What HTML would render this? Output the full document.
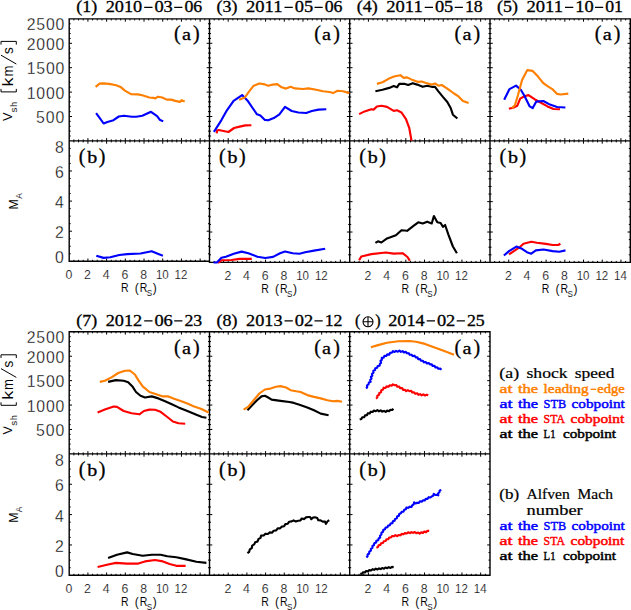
<!DOCTYPE html><html><head><meta charset="utf-8"><style>html,body{margin:0;padding:0;background:#fff;width:631px;height:610px;overflow:hidden}svg{display:block}</style></head><body>
<svg width="631" height="610" viewBox="0 0 631 610">
<rect width="631" height="610" fill="#fff"/>
<path d="M69.20 18.90H209.50V140.90H69.20ZM69.20 140.90H209.50V261.30H69.20ZM209.50 18.90H349.70V140.90H209.50ZM209.50 140.90H349.70V262.40H209.50ZM349.70 18.90H490.00V140.90H349.70ZM349.70 140.90H490.00V262.40H349.70ZM490.00 18.90H630.30V140.90H490.00ZM490.00 140.90H630.30V262.40H490.00ZM69.20 331.80H209.50V453.90H69.20ZM69.20 453.90H209.50V575.30H69.20ZM209.50 331.80H349.70V453.90H209.50ZM209.50 453.90H349.70V575.30H209.50ZM349.70 331.80H490.00V453.90H349.70ZM349.70 453.90H490.00V575.30H349.70Z" fill="none" stroke="#000" stroke-width="1.4" stroke-linecap="square"/>
<path d="M73.88 140.90v-1.5M73.88 18.90v1.5M78.55 140.90v-1.5M78.55 18.90v1.5M83.23 140.90v-1.5M83.23 18.90v1.5M87.91 140.90v-2.8M87.91 18.90v2.8M92.58 140.90v-1.5M92.58 18.90v1.5M97.26 140.90v-1.5M97.26 18.90v1.5M101.94 140.90v-1.5M101.94 18.90v1.5M106.61 140.90v-2.8M106.61 18.90v2.8M111.29 140.90v-1.5M111.29 18.90v1.5M115.97 140.90v-1.5M115.97 18.90v1.5M120.64 140.90v-1.5M120.64 18.90v1.5M125.32 140.90v-2.8M125.32 18.90v2.8M130.00 140.90v-1.5M130.00 18.90v1.5M134.67 140.90v-1.5M134.67 18.90v1.5M139.35 140.90v-1.5M139.35 18.90v1.5M144.03 140.90v-2.8M144.03 18.90v2.8M148.70 140.90v-1.5M148.70 18.90v1.5M153.38 140.90v-1.5M153.38 18.90v1.5M158.06 140.90v-1.5M158.06 18.90v1.5M162.73 140.90v-2.8M162.73 18.90v2.8M167.41 140.90v-1.5M167.41 18.90v1.5M172.09 140.90v-1.5M172.09 18.90v1.5M176.76 140.90v-1.5M176.76 18.90v1.5M181.44 140.90v-2.8M181.44 18.90v2.8M186.12 140.90v-1.5M186.12 18.90v1.5M190.79 140.90v-1.5M190.79 18.90v1.5M195.47 140.90v-1.5M195.47 18.90v1.5M200.15 140.90v-2.8M200.15 18.90v2.8M204.82 140.90v-1.5M204.82 18.90v1.5M69.20 136.02h1.5M209.50 136.02h-1.5M69.20 131.14h1.5M209.50 131.14h-1.5M69.20 126.26h1.5M209.50 126.26h-1.5M69.20 121.38h1.5M209.50 121.38h-1.5M69.20 116.50h2.8M209.50 116.50h-2.8M69.20 111.62h1.5M209.50 111.62h-1.5M69.20 106.74h1.5M209.50 106.74h-1.5M69.20 101.86h1.5M209.50 101.86h-1.5M69.20 96.98h1.5M209.50 96.98h-1.5M69.20 92.10h2.8M209.50 92.10h-2.8M69.20 87.22h1.5M209.50 87.22h-1.5M69.20 82.34h1.5M209.50 82.34h-1.5M69.20 77.46h1.5M209.50 77.46h-1.5M69.20 72.58h1.5M209.50 72.58h-1.5M69.20 67.70h2.8M209.50 67.70h-2.8M69.20 62.82h1.5M209.50 62.82h-1.5M69.20 57.94h1.5M209.50 57.94h-1.5M69.20 53.06h1.5M209.50 53.06h-1.5M69.20 48.18h1.5M209.50 48.18h-1.5M69.20 43.30h2.8M209.50 43.30h-2.8M69.20 38.42h1.5M209.50 38.42h-1.5M69.20 33.54h1.5M209.50 33.54h-1.5M69.20 28.66h1.5M209.50 28.66h-1.5M69.20 23.78h1.5M209.50 23.78h-1.5M73.88 261.30v-1.5M73.88 140.90v1.5M78.55 261.30v-1.5M78.55 140.90v1.5M83.23 261.30v-1.5M83.23 140.90v1.5M87.91 261.30v-2.8M87.91 140.90v2.8M92.58 261.30v-1.5M92.58 140.90v1.5M97.26 261.30v-1.5M97.26 140.90v1.5M101.94 261.30v-1.5M101.94 140.90v1.5M106.61 261.30v-2.8M106.61 140.90v2.8M111.29 261.30v-1.5M111.29 140.90v1.5M115.97 261.30v-1.5M115.97 140.90v1.5M120.64 261.30v-1.5M120.64 140.90v1.5M125.32 261.30v-2.8M125.32 140.90v2.8M130.00 261.30v-1.5M130.00 140.90v1.5M134.67 261.30v-1.5M134.67 140.90v1.5M139.35 261.30v-1.5M139.35 140.90v1.5M144.03 261.30v-2.8M144.03 140.90v2.8M148.70 261.30v-1.5M148.70 140.90v1.5M153.38 261.30v-1.5M153.38 140.90v1.5M158.06 261.30v-1.5M158.06 140.90v1.5M162.73 261.30v-2.8M162.73 140.90v2.8M167.41 261.30v-1.5M167.41 140.90v1.5M172.09 261.30v-1.5M172.09 140.90v1.5M176.76 261.30v-1.5M176.76 140.90v1.5M181.44 261.30v-2.8M181.44 140.90v2.8M186.12 261.30v-1.5M186.12 140.90v1.5M190.79 261.30v-1.5M190.79 140.90v1.5M195.47 261.30v-1.5M195.47 140.90v1.5M200.15 261.30v-2.8M200.15 140.90v2.8M204.82 261.30v-1.5M204.82 140.90v1.5M69.20 253.78h1.5M209.50 253.78h-1.5M69.20 246.25h1.5M209.50 246.25h-1.5M69.20 238.73h1.5M209.50 238.73h-1.5M69.20 231.20h2.8M209.50 231.20h-2.8M69.20 223.68h1.5M209.50 223.68h-1.5M69.20 216.15h1.5M209.50 216.15h-1.5M69.20 208.62h1.5M209.50 208.62h-1.5M69.20 201.10h2.8M209.50 201.10h-2.8M69.20 193.57h1.5M209.50 193.57h-1.5M69.20 186.05h1.5M209.50 186.05h-1.5M69.20 178.53h1.5M209.50 178.53h-1.5M69.20 171.00h2.8M209.50 171.00h-2.8M69.20 163.48h1.5M209.50 163.48h-1.5M69.20 155.95h1.5M209.50 155.95h-1.5M69.20 148.43h1.5M209.50 148.43h-1.5M214.17 140.90v-1.5M214.17 18.90v1.5M218.85 140.90v-1.5M218.85 18.90v1.5M223.52 140.90v-1.5M223.52 18.90v1.5M228.19 140.90v-2.8M228.19 18.90v2.8M232.87 140.90v-1.5M232.87 18.90v1.5M237.54 140.90v-1.5M237.54 18.90v1.5M242.21 140.90v-1.5M242.21 18.90v1.5M246.89 140.90v-2.8M246.89 18.90v2.8M251.56 140.90v-1.5M251.56 18.90v1.5M256.23 140.90v-1.5M256.23 18.90v1.5M260.91 140.90v-1.5M260.91 18.90v1.5M265.58 140.90v-2.8M265.58 18.90v2.8M270.25 140.90v-1.5M270.25 18.90v1.5M274.93 140.90v-1.5M274.93 18.90v1.5M279.60 140.90v-1.5M279.60 18.90v1.5M284.27 140.90v-2.8M284.27 18.90v2.8M288.95 140.90v-1.5M288.95 18.90v1.5M293.62 140.90v-1.5M293.62 18.90v1.5M298.29 140.90v-1.5M298.29 18.90v1.5M302.97 140.90v-2.8M302.97 18.90v2.8M307.64 140.90v-1.5M307.64 18.90v1.5M312.31 140.90v-1.5M312.31 18.90v1.5M316.99 140.90v-1.5M316.99 18.90v1.5M321.66 140.90v-2.8M321.66 18.90v2.8M326.33 140.90v-1.5M326.33 18.90v1.5M331.01 140.90v-1.5M331.01 18.90v1.5M335.68 140.90v-1.5M335.68 18.90v1.5M340.35 140.90v-2.8M340.35 18.90v2.8M345.03 140.90v-1.5M345.03 18.90v1.5M209.50 136.02h1.5M349.70 136.02h-1.5M209.50 131.14h1.5M349.70 131.14h-1.5M209.50 126.26h1.5M349.70 126.26h-1.5M209.50 121.38h1.5M349.70 121.38h-1.5M209.50 116.50h2.8M349.70 116.50h-2.8M209.50 111.62h1.5M349.70 111.62h-1.5M209.50 106.74h1.5M349.70 106.74h-1.5M209.50 101.86h1.5M349.70 101.86h-1.5M209.50 96.98h1.5M349.70 96.98h-1.5M209.50 92.10h2.8M349.70 92.10h-2.8M209.50 87.22h1.5M349.70 87.22h-1.5M209.50 82.34h1.5M349.70 82.34h-1.5M209.50 77.46h1.5M349.70 77.46h-1.5M209.50 72.58h1.5M349.70 72.58h-1.5M209.50 67.70h2.8M349.70 67.70h-2.8M209.50 62.82h1.5M349.70 62.82h-1.5M209.50 57.94h1.5M349.70 57.94h-1.5M209.50 53.06h1.5M349.70 53.06h-1.5M209.50 48.18h1.5M349.70 48.18h-1.5M209.50 43.30h2.8M349.70 43.30h-2.8M209.50 38.42h1.5M349.70 38.42h-1.5M209.50 33.54h1.5M349.70 33.54h-1.5M209.50 28.66h1.5M349.70 28.66h-1.5M209.50 23.78h1.5M349.70 23.78h-1.5M214.17 262.40v-1.5M214.17 140.90v1.5M218.85 262.40v-1.5M218.85 140.90v1.5M223.52 262.40v-1.5M223.52 140.90v1.5M228.19 262.40v-2.8M228.19 140.90v2.8M232.87 262.40v-1.5M232.87 140.90v1.5M237.54 262.40v-1.5M237.54 140.90v1.5M242.21 262.40v-1.5M242.21 140.90v1.5M246.89 262.40v-2.8M246.89 140.90v2.8M251.56 262.40v-1.5M251.56 140.90v1.5M256.23 262.40v-1.5M256.23 140.90v1.5M260.91 262.40v-1.5M260.91 140.90v1.5M265.58 262.40v-2.8M265.58 140.90v2.8M270.25 262.40v-1.5M270.25 140.90v1.5M274.93 262.40v-1.5M274.93 140.90v1.5M279.60 262.40v-1.5M279.60 140.90v1.5M284.27 262.40v-2.8M284.27 140.90v2.8M288.95 262.40v-1.5M288.95 140.90v1.5M293.62 262.40v-1.5M293.62 140.90v1.5M298.29 262.40v-1.5M298.29 140.90v1.5M302.97 262.40v-2.8M302.97 140.90v2.8M307.64 262.40v-1.5M307.64 140.90v1.5M312.31 262.40v-1.5M312.31 140.90v1.5M316.99 262.40v-1.5M316.99 140.90v1.5M321.66 262.40v-2.8M321.66 140.90v2.8M326.33 262.40v-1.5M326.33 140.90v1.5M331.01 262.40v-1.5M331.01 140.90v1.5M335.68 262.40v-1.5M335.68 140.90v1.5M340.35 262.40v-2.8M340.35 140.90v2.8M345.03 262.40v-1.5M345.03 140.90v1.5M209.50 254.81h1.5M349.70 254.81h-1.5M209.50 247.21h1.5M349.70 247.21h-1.5M209.50 239.62h1.5M349.70 239.62h-1.5M209.50 232.02h2.8M349.70 232.02h-2.8M209.50 224.43h1.5M349.70 224.43h-1.5M209.50 216.84h1.5M349.70 216.84h-1.5M209.50 209.24h1.5M349.70 209.24h-1.5M209.50 201.65h2.8M349.70 201.65h-2.8M209.50 194.06h1.5M349.70 194.06h-1.5M209.50 186.46h1.5M349.70 186.46h-1.5M209.50 178.87h1.5M349.70 178.87h-1.5M209.50 171.28h2.8M349.70 171.28h-2.8M209.50 163.68h1.5M349.70 163.68h-1.5M209.50 156.09h1.5M349.70 156.09h-1.5M209.50 148.49h1.5M349.70 148.49h-1.5M354.38 140.90v-1.5M354.38 18.90v1.5M359.05 140.90v-1.5M359.05 18.90v1.5M363.73 140.90v-1.5M363.73 18.90v1.5M368.41 140.90v-2.8M368.41 18.90v2.8M373.08 140.90v-1.5M373.08 18.90v1.5M377.76 140.90v-1.5M377.76 18.90v1.5M382.44 140.90v-1.5M382.44 18.90v1.5M387.11 140.90v-2.8M387.11 18.90v2.8M391.79 140.90v-1.5M391.79 18.90v1.5M396.47 140.90v-1.5M396.47 18.90v1.5M401.14 140.90v-1.5M401.14 18.90v1.5M405.82 140.90v-2.8M405.82 18.90v2.8M410.50 140.90v-1.5M410.50 18.90v1.5M415.17 140.90v-1.5M415.17 18.90v1.5M419.85 140.90v-1.5M419.85 18.90v1.5M424.53 140.90v-2.8M424.53 18.90v2.8M429.20 140.90v-1.5M429.20 18.90v1.5M433.88 140.90v-1.5M433.88 18.90v1.5M438.56 140.90v-1.5M438.56 18.90v1.5M443.23 140.90v-2.8M443.23 18.90v2.8M447.91 140.90v-1.5M447.91 18.90v1.5M452.59 140.90v-1.5M452.59 18.90v1.5M457.26 140.90v-1.5M457.26 18.90v1.5M461.94 140.90v-2.8M461.94 18.90v2.8M466.62 140.90v-1.5M466.62 18.90v1.5M471.29 140.90v-1.5M471.29 18.90v1.5M475.97 140.90v-1.5M475.97 18.90v1.5M480.65 140.90v-2.8M480.65 18.90v2.8M485.32 140.90v-1.5M485.32 18.90v1.5M349.70 136.02h1.5M490.00 136.02h-1.5M349.70 131.14h1.5M490.00 131.14h-1.5M349.70 126.26h1.5M490.00 126.26h-1.5M349.70 121.38h1.5M490.00 121.38h-1.5M349.70 116.50h2.8M490.00 116.50h-2.8M349.70 111.62h1.5M490.00 111.62h-1.5M349.70 106.74h1.5M490.00 106.74h-1.5M349.70 101.86h1.5M490.00 101.86h-1.5M349.70 96.98h1.5M490.00 96.98h-1.5M349.70 92.10h2.8M490.00 92.10h-2.8M349.70 87.22h1.5M490.00 87.22h-1.5M349.70 82.34h1.5M490.00 82.34h-1.5M349.70 77.46h1.5M490.00 77.46h-1.5M349.70 72.58h1.5M490.00 72.58h-1.5M349.70 67.70h2.8M490.00 67.70h-2.8M349.70 62.82h1.5M490.00 62.82h-1.5M349.70 57.94h1.5M490.00 57.94h-1.5M349.70 53.06h1.5M490.00 53.06h-1.5M349.70 48.18h1.5M490.00 48.18h-1.5M349.70 43.30h2.8M490.00 43.30h-2.8M349.70 38.42h1.5M490.00 38.42h-1.5M349.70 33.54h1.5M490.00 33.54h-1.5M349.70 28.66h1.5M490.00 28.66h-1.5M349.70 23.78h1.5M490.00 23.78h-1.5M354.38 262.40v-1.5M354.38 140.90v1.5M359.05 262.40v-1.5M359.05 140.90v1.5M363.73 262.40v-1.5M363.73 140.90v1.5M368.41 262.40v-2.8M368.41 140.90v2.8M373.08 262.40v-1.5M373.08 140.90v1.5M377.76 262.40v-1.5M377.76 140.90v1.5M382.44 262.40v-1.5M382.44 140.90v1.5M387.11 262.40v-2.8M387.11 140.90v2.8M391.79 262.40v-1.5M391.79 140.90v1.5M396.47 262.40v-1.5M396.47 140.90v1.5M401.14 262.40v-1.5M401.14 140.90v1.5M405.82 262.40v-2.8M405.82 140.90v2.8M410.50 262.40v-1.5M410.50 140.90v1.5M415.17 262.40v-1.5M415.17 140.90v1.5M419.85 262.40v-1.5M419.85 140.90v1.5M424.53 262.40v-2.8M424.53 140.90v2.8M429.20 262.40v-1.5M429.20 140.90v1.5M433.88 262.40v-1.5M433.88 140.90v1.5M438.56 262.40v-1.5M438.56 140.90v1.5M443.23 262.40v-2.8M443.23 140.90v2.8M447.91 262.40v-1.5M447.91 140.90v1.5M452.59 262.40v-1.5M452.59 140.90v1.5M457.26 262.40v-1.5M457.26 140.90v1.5M461.94 262.40v-2.8M461.94 140.90v2.8M466.62 262.40v-1.5M466.62 140.90v1.5M471.29 262.40v-1.5M471.29 140.90v1.5M475.97 262.40v-1.5M475.97 140.90v1.5M480.65 262.40v-2.8M480.65 140.90v2.8M485.32 262.40v-1.5M485.32 140.90v1.5M349.70 254.81h1.5M490.00 254.81h-1.5M349.70 247.21h1.5M490.00 247.21h-1.5M349.70 239.62h1.5M490.00 239.62h-1.5M349.70 232.02h2.8M490.00 232.02h-2.8M349.70 224.43h1.5M490.00 224.43h-1.5M349.70 216.84h1.5M490.00 216.84h-1.5M349.70 209.24h1.5M490.00 209.24h-1.5M349.70 201.65h2.8M490.00 201.65h-2.8M349.70 194.06h1.5M490.00 194.06h-1.5M349.70 186.46h1.5M490.00 186.46h-1.5M349.70 178.87h1.5M490.00 178.87h-1.5M349.70 171.28h2.8M490.00 171.28h-2.8M349.70 163.68h1.5M490.00 163.68h-1.5M349.70 156.09h1.5M490.00 156.09h-1.5M349.70 148.49h1.5M490.00 148.49h-1.5M494.68 140.90v-1.5M494.68 18.90v1.5M499.35 140.90v-1.5M499.35 18.90v1.5M504.03 140.90v-1.5M504.03 18.90v1.5M508.71 140.90v-2.8M508.71 18.90v2.8M513.38 140.90v-1.5M513.38 18.90v1.5M518.06 140.90v-1.5M518.06 18.90v1.5M522.74 140.90v-1.5M522.74 18.90v1.5M527.41 140.90v-2.8M527.41 18.90v2.8M532.09 140.90v-1.5M532.09 18.90v1.5M536.77 140.90v-1.5M536.77 18.90v1.5M541.44 140.90v-1.5M541.44 18.90v1.5M546.12 140.90v-2.8M546.12 18.90v2.8M550.80 140.90v-1.5M550.80 18.90v1.5M555.47 140.90v-1.5M555.47 18.90v1.5M560.15 140.90v-1.5M560.15 18.90v1.5M564.83 140.90v-2.8M564.83 18.90v2.8M569.50 140.90v-1.5M569.50 18.90v1.5M574.18 140.90v-1.5M574.18 18.90v1.5M578.86 140.90v-1.5M578.86 18.90v1.5M583.53 140.90v-2.8M583.53 18.90v2.8M588.21 140.90v-1.5M588.21 18.90v1.5M592.89 140.90v-1.5M592.89 18.90v1.5M597.56 140.90v-1.5M597.56 18.90v1.5M602.24 140.90v-2.8M602.24 18.90v2.8M606.92 140.90v-1.5M606.92 18.90v1.5M611.59 140.90v-1.5M611.59 18.90v1.5M616.27 140.90v-1.5M616.27 18.90v1.5M620.95 140.90v-2.8M620.95 18.90v2.8M625.62 140.90v-1.5M625.62 18.90v1.5M490.00 136.02h1.5M630.30 136.02h-1.5M490.00 131.14h1.5M630.30 131.14h-1.5M490.00 126.26h1.5M630.30 126.26h-1.5M490.00 121.38h1.5M630.30 121.38h-1.5M490.00 116.50h2.8M630.30 116.50h-2.8M490.00 111.62h1.5M630.30 111.62h-1.5M490.00 106.74h1.5M630.30 106.74h-1.5M490.00 101.86h1.5M630.30 101.86h-1.5M490.00 96.98h1.5M630.30 96.98h-1.5M490.00 92.10h2.8M630.30 92.10h-2.8M490.00 87.22h1.5M630.30 87.22h-1.5M490.00 82.34h1.5M630.30 82.34h-1.5M490.00 77.46h1.5M630.30 77.46h-1.5M490.00 72.58h1.5M630.30 72.58h-1.5M490.00 67.70h2.8M630.30 67.70h-2.8M490.00 62.82h1.5M630.30 62.82h-1.5M490.00 57.94h1.5M630.30 57.94h-1.5M490.00 53.06h1.5M630.30 53.06h-1.5M490.00 48.18h1.5M630.30 48.18h-1.5M490.00 43.30h2.8M630.30 43.30h-2.8M490.00 38.42h1.5M630.30 38.42h-1.5M490.00 33.54h1.5M630.30 33.54h-1.5M490.00 28.66h1.5M630.30 28.66h-1.5M490.00 23.78h1.5M630.30 23.78h-1.5M494.68 262.40v-1.5M494.68 140.90v1.5M499.35 262.40v-1.5M499.35 140.90v1.5M504.03 262.40v-1.5M504.03 140.90v1.5M508.71 262.40v-2.8M508.71 140.90v2.8M513.38 262.40v-1.5M513.38 140.90v1.5M518.06 262.40v-1.5M518.06 140.90v1.5M522.74 262.40v-1.5M522.74 140.90v1.5M527.41 262.40v-2.8M527.41 140.90v2.8M532.09 262.40v-1.5M532.09 140.90v1.5M536.77 262.40v-1.5M536.77 140.90v1.5M541.44 262.40v-1.5M541.44 140.90v1.5M546.12 262.40v-2.8M546.12 140.90v2.8M550.80 262.40v-1.5M550.80 140.90v1.5M555.47 262.40v-1.5M555.47 140.90v1.5M560.15 262.40v-1.5M560.15 140.90v1.5M564.83 262.40v-2.8M564.83 140.90v2.8M569.50 262.40v-1.5M569.50 140.90v1.5M574.18 262.40v-1.5M574.18 140.90v1.5M578.86 262.40v-1.5M578.86 140.90v1.5M583.53 262.40v-2.8M583.53 140.90v2.8M588.21 262.40v-1.5M588.21 140.90v1.5M592.89 262.40v-1.5M592.89 140.90v1.5M597.56 262.40v-1.5M597.56 140.90v1.5M602.24 262.40v-2.8M602.24 140.90v2.8M606.92 262.40v-1.5M606.92 140.90v1.5M611.59 262.40v-1.5M611.59 140.90v1.5M616.27 262.40v-1.5M616.27 140.90v1.5M620.95 262.40v-2.8M620.95 140.90v2.8M625.62 262.40v-1.5M625.62 140.90v1.5M490.00 254.81h1.5M630.30 254.81h-1.5M490.00 247.21h1.5M630.30 247.21h-1.5M490.00 239.62h1.5M630.30 239.62h-1.5M490.00 232.02h2.8M630.30 232.02h-2.8M490.00 224.43h1.5M630.30 224.43h-1.5M490.00 216.84h1.5M630.30 216.84h-1.5M490.00 209.24h1.5M630.30 209.24h-1.5M490.00 201.65h2.8M630.30 201.65h-2.8M490.00 194.06h1.5M630.30 194.06h-1.5M490.00 186.46h1.5M630.30 186.46h-1.5M490.00 178.87h1.5M630.30 178.87h-1.5M490.00 171.28h2.8M630.30 171.28h-2.8M490.00 163.68h1.5M630.30 163.68h-1.5M490.00 156.09h1.5M630.30 156.09h-1.5M490.00 148.49h1.5M630.30 148.49h-1.5M73.88 453.90v-1.5M73.88 331.80v1.5M78.55 453.90v-1.5M78.55 331.80v1.5M83.23 453.90v-1.5M83.23 331.80v1.5M87.91 453.90v-2.8M87.91 331.80v2.8M92.58 453.90v-1.5M92.58 331.80v1.5M97.26 453.90v-1.5M97.26 331.80v1.5M101.94 453.90v-1.5M101.94 331.80v1.5M106.61 453.90v-2.8M106.61 331.80v2.8M111.29 453.90v-1.5M111.29 331.80v1.5M115.97 453.90v-1.5M115.97 331.80v1.5M120.64 453.90v-1.5M120.64 331.80v1.5M125.32 453.90v-2.8M125.32 331.80v2.8M130.00 453.90v-1.5M130.00 331.80v1.5M134.67 453.90v-1.5M134.67 331.80v1.5M139.35 453.90v-1.5M139.35 331.80v1.5M144.03 453.90v-2.8M144.03 331.80v2.8M148.70 453.90v-1.5M148.70 331.80v1.5M153.38 453.90v-1.5M153.38 331.80v1.5M158.06 453.90v-1.5M158.06 331.80v1.5M162.73 453.90v-2.8M162.73 331.80v2.8M167.41 453.90v-1.5M167.41 331.80v1.5M172.09 453.90v-1.5M172.09 331.80v1.5M176.76 453.90v-1.5M176.76 331.80v1.5M181.44 453.90v-2.8M181.44 331.80v2.8M186.12 453.90v-1.5M186.12 331.80v1.5M190.79 453.90v-1.5M190.79 331.80v1.5M195.47 453.90v-1.5M195.47 331.80v1.5M200.15 453.90v-2.8M200.15 331.80v2.8M204.82 453.90v-1.5M204.82 331.80v1.5M69.20 449.02h1.5M209.50 449.02h-1.5M69.20 444.13h1.5M209.50 444.13h-1.5M69.20 439.25h1.5M209.50 439.25h-1.5M69.20 434.36h1.5M209.50 434.36h-1.5M69.20 429.48h2.8M209.50 429.48h-2.8M69.20 424.60h1.5M209.50 424.60h-1.5M69.20 419.71h1.5M209.50 419.71h-1.5M69.20 414.83h1.5M209.50 414.83h-1.5M69.20 409.94h1.5M209.50 409.94h-1.5M69.20 405.06h2.8M209.50 405.06h-2.8M69.20 400.18h1.5M209.50 400.18h-1.5M69.20 395.29h1.5M209.50 395.29h-1.5M69.20 390.41h1.5M209.50 390.41h-1.5M69.20 385.52h1.5M209.50 385.52h-1.5M69.20 380.64h2.8M209.50 380.64h-2.8M69.20 375.76h1.5M209.50 375.76h-1.5M69.20 370.87h1.5M209.50 370.87h-1.5M69.20 365.99h1.5M209.50 365.99h-1.5M69.20 361.10h1.5M209.50 361.10h-1.5M69.20 356.22h2.8M209.50 356.22h-2.8M69.20 351.34h1.5M209.50 351.34h-1.5M69.20 346.45h1.5M209.50 346.45h-1.5M69.20 341.57h1.5M209.50 341.57h-1.5M69.20 336.68h1.5M209.50 336.68h-1.5M73.88 575.30v-1.5M73.88 453.90v1.5M78.55 575.30v-1.5M78.55 453.90v1.5M83.23 575.30v-1.5M83.23 453.90v1.5M87.91 575.30v-2.8M87.91 453.90v2.8M92.58 575.30v-1.5M92.58 453.90v1.5M97.26 575.30v-1.5M97.26 453.90v1.5M101.94 575.30v-1.5M101.94 453.90v1.5M106.61 575.30v-2.8M106.61 453.90v2.8M111.29 575.30v-1.5M111.29 453.90v1.5M115.97 575.30v-1.5M115.97 453.90v1.5M120.64 575.30v-1.5M120.64 453.90v1.5M125.32 575.30v-2.8M125.32 453.90v2.8M130.00 575.30v-1.5M130.00 453.90v1.5M134.67 575.30v-1.5M134.67 453.90v1.5M139.35 575.30v-1.5M139.35 453.90v1.5M144.03 575.30v-2.8M144.03 453.90v2.8M148.70 575.30v-1.5M148.70 453.90v1.5M153.38 575.30v-1.5M153.38 453.90v1.5M158.06 575.30v-1.5M158.06 453.90v1.5M162.73 575.30v-2.8M162.73 453.90v2.8M167.41 575.30v-1.5M167.41 453.90v1.5M172.09 575.30v-1.5M172.09 453.90v1.5M176.76 575.30v-1.5M176.76 453.90v1.5M181.44 575.30v-2.8M181.44 453.90v2.8M186.12 575.30v-1.5M186.12 453.90v1.5M190.79 575.30v-1.5M190.79 453.90v1.5M195.47 575.30v-1.5M195.47 453.90v1.5M200.15 575.30v-2.8M200.15 453.90v2.8M204.82 575.30v-1.5M204.82 453.90v1.5M69.20 567.71h1.5M209.50 567.71h-1.5M69.20 560.12h1.5M209.50 560.12h-1.5M69.20 552.54h1.5M209.50 552.54h-1.5M69.20 544.95h2.8M209.50 544.95h-2.8M69.20 537.36h1.5M209.50 537.36h-1.5M69.20 529.77h1.5M209.50 529.77h-1.5M69.20 522.19h1.5M209.50 522.19h-1.5M69.20 514.60h2.8M209.50 514.60h-2.8M69.20 507.01h1.5M209.50 507.01h-1.5M69.20 499.42h1.5M209.50 499.42h-1.5M69.20 491.84h1.5M209.50 491.84h-1.5M69.20 484.25h2.8M209.50 484.25h-2.8M69.20 476.66h1.5M209.50 476.66h-1.5M69.20 469.07h1.5M209.50 469.07h-1.5M69.20 461.49h1.5M209.50 461.49h-1.5M214.17 453.90v-1.5M214.17 331.80v1.5M218.85 453.90v-1.5M218.85 331.80v1.5M223.52 453.90v-1.5M223.52 331.80v1.5M228.19 453.90v-2.8M228.19 331.80v2.8M232.87 453.90v-1.5M232.87 331.80v1.5M237.54 453.90v-1.5M237.54 331.80v1.5M242.21 453.90v-1.5M242.21 331.80v1.5M246.89 453.90v-2.8M246.89 331.80v2.8M251.56 453.90v-1.5M251.56 331.80v1.5M256.23 453.90v-1.5M256.23 331.80v1.5M260.91 453.90v-1.5M260.91 331.80v1.5M265.58 453.90v-2.8M265.58 331.80v2.8M270.25 453.90v-1.5M270.25 331.80v1.5M274.93 453.90v-1.5M274.93 331.80v1.5M279.60 453.90v-1.5M279.60 331.80v1.5M284.27 453.90v-2.8M284.27 331.80v2.8M288.95 453.90v-1.5M288.95 331.80v1.5M293.62 453.90v-1.5M293.62 331.80v1.5M298.29 453.90v-1.5M298.29 331.80v1.5M302.97 453.90v-2.8M302.97 331.80v2.8M307.64 453.90v-1.5M307.64 331.80v1.5M312.31 453.90v-1.5M312.31 331.80v1.5M316.99 453.90v-1.5M316.99 331.80v1.5M321.66 453.90v-2.8M321.66 331.80v2.8M326.33 453.90v-1.5M326.33 331.80v1.5M331.01 453.90v-1.5M331.01 331.80v1.5M335.68 453.90v-1.5M335.68 331.80v1.5M340.35 453.90v-2.8M340.35 331.80v2.8M345.03 453.90v-1.5M345.03 331.80v1.5M209.50 449.02h1.5M349.70 449.02h-1.5M209.50 444.13h1.5M349.70 444.13h-1.5M209.50 439.25h1.5M349.70 439.25h-1.5M209.50 434.36h1.5M349.70 434.36h-1.5M209.50 429.48h2.8M349.70 429.48h-2.8M209.50 424.60h1.5M349.70 424.60h-1.5M209.50 419.71h1.5M349.70 419.71h-1.5M209.50 414.83h1.5M349.70 414.83h-1.5M209.50 409.94h1.5M349.70 409.94h-1.5M209.50 405.06h2.8M349.70 405.06h-2.8M209.50 400.18h1.5M349.70 400.18h-1.5M209.50 395.29h1.5M349.70 395.29h-1.5M209.50 390.41h1.5M349.70 390.41h-1.5M209.50 385.52h1.5M349.70 385.52h-1.5M209.50 380.64h2.8M349.70 380.64h-2.8M209.50 375.76h1.5M349.70 375.76h-1.5M209.50 370.87h1.5M349.70 370.87h-1.5M209.50 365.99h1.5M349.70 365.99h-1.5M209.50 361.10h1.5M349.70 361.10h-1.5M209.50 356.22h2.8M349.70 356.22h-2.8M209.50 351.34h1.5M349.70 351.34h-1.5M209.50 346.45h1.5M349.70 346.45h-1.5M209.50 341.57h1.5M349.70 341.57h-1.5M209.50 336.68h1.5M349.70 336.68h-1.5M214.17 575.30v-1.5M214.17 453.90v1.5M218.85 575.30v-1.5M218.85 453.90v1.5M223.52 575.30v-1.5M223.52 453.90v1.5M228.19 575.30v-2.8M228.19 453.90v2.8M232.87 575.30v-1.5M232.87 453.90v1.5M237.54 575.30v-1.5M237.54 453.90v1.5M242.21 575.30v-1.5M242.21 453.90v1.5M246.89 575.30v-2.8M246.89 453.90v2.8M251.56 575.30v-1.5M251.56 453.90v1.5M256.23 575.30v-1.5M256.23 453.90v1.5M260.91 575.30v-1.5M260.91 453.90v1.5M265.58 575.30v-2.8M265.58 453.90v2.8M270.25 575.30v-1.5M270.25 453.90v1.5M274.93 575.30v-1.5M274.93 453.90v1.5M279.60 575.30v-1.5M279.60 453.90v1.5M284.27 575.30v-2.8M284.27 453.90v2.8M288.95 575.30v-1.5M288.95 453.90v1.5M293.62 575.30v-1.5M293.62 453.90v1.5M298.29 575.30v-1.5M298.29 453.90v1.5M302.97 575.30v-2.8M302.97 453.90v2.8M307.64 575.30v-1.5M307.64 453.90v1.5M312.31 575.30v-1.5M312.31 453.90v1.5M316.99 575.30v-1.5M316.99 453.90v1.5M321.66 575.30v-2.8M321.66 453.90v2.8M326.33 575.30v-1.5M326.33 453.90v1.5M331.01 575.30v-1.5M331.01 453.90v1.5M335.68 575.30v-1.5M335.68 453.90v1.5M340.35 575.30v-2.8M340.35 453.90v2.8M345.03 575.30v-1.5M345.03 453.90v1.5M209.50 567.71h1.5M349.70 567.71h-1.5M209.50 560.12h1.5M349.70 560.12h-1.5M209.50 552.54h1.5M349.70 552.54h-1.5M209.50 544.95h2.8M349.70 544.95h-2.8M209.50 537.36h1.5M349.70 537.36h-1.5M209.50 529.77h1.5M349.70 529.77h-1.5M209.50 522.19h1.5M349.70 522.19h-1.5M209.50 514.60h2.8M349.70 514.60h-2.8M209.50 507.01h1.5M349.70 507.01h-1.5M209.50 499.42h1.5M349.70 499.42h-1.5M209.50 491.84h1.5M349.70 491.84h-1.5M209.50 484.25h2.8M349.70 484.25h-2.8M209.50 476.66h1.5M349.70 476.66h-1.5M209.50 469.07h1.5M349.70 469.07h-1.5M209.50 461.49h1.5M349.70 461.49h-1.5M354.38 453.90v-1.5M354.38 331.80v1.5M359.05 453.90v-1.5M359.05 331.80v1.5M363.73 453.90v-1.5M363.73 331.80v1.5M368.41 453.90v-2.8M368.41 331.80v2.8M373.08 453.90v-1.5M373.08 331.80v1.5M377.76 453.90v-1.5M377.76 331.80v1.5M382.44 453.90v-1.5M382.44 331.80v1.5M387.11 453.90v-2.8M387.11 331.80v2.8M391.79 453.90v-1.5M391.79 331.80v1.5M396.47 453.90v-1.5M396.47 331.80v1.5M401.14 453.90v-1.5M401.14 331.80v1.5M405.82 453.90v-2.8M405.82 331.80v2.8M410.50 453.90v-1.5M410.50 331.80v1.5M415.17 453.90v-1.5M415.17 331.80v1.5M419.85 453.90v-1.5M419.85 331.80v1.5M424.53 453.90v-2.8M424.53 331.80v2.8M429.20 453.90v-1.5M429.20 331.80v1.5M433.88 453.90v-1.5M433.88 331.80v1.5M438.56 453.90v-1.5M438.56 331.80v1.5M443.23 453.90v-2.8M443.23 331.80v2.8M447.91 453.90v-1.5M447.91 331.80v1.5M452.59 453.90v-1.5M452.59 331.80v1.5M457.26 453.90v-1.5M457.26 331.80v1.5M461.94 453.90v-2.8M461.94 331.80v2.8M466.62 453.90v-1.5M466.62 331.80v1.5M471.29 453.90v-1.5M471.29 331.80v1.5M475.97 453.90v-1.5M475.97 331.80v1.5M480.65 453.90v-2.8M480.65 331.80v2.8M485.32 453.90v-1.5M485.32 331.80v1.5M349.70 449.02h1.5M490.00 449.02h-1.5M349.70 444.13h1.5M490.00 444.13h-1.5M349.70 439.25h1.5M490.00 439.25h-1.5M349.70 434.36h1.5M490.00 434.36h-1.5M349.70 429.48h2.8M490.00 429.48h-2.8M349.70 424.60h1.5M490.00 424.60h-1.5M349.70 419.71h1.5M490.00 419.71h-1.5M349.70 414.83h1.5M490.00 414.83h-1.5M349.70 409.94h1.5M490.00 409.94h-1.5M349.70 405.06h2.8M490.00 405.06h-2.8M349.70 400.18h1.5M490.00 400.18h-1.5M349.70 395.29h1.5M490.00 395.29h-1.5M349.70 390.41h1.5M490.00 390.41h-1.5M349.70 385.52h1.5M490.00 385.52h-1.5M349.70 380.64h2.8M490.00 380.64h-2.8M349.70 375.76h1.5M490.00 375.76h-1.5M349.70 370.87h1.5M490.00 370.87h-1.5M349.70 365.99h1.5M490.00 365.99h-1.5M349.70 361.10h1.5M490.00 361.10h-1.5M349.70 356.22h2.8M490.00 356.22h-2.8M349.70 351.34h1.5M490.00 351.34h-1.5M349.70 346.45h1.5M490.00 346.45h-1.5M349.70 341.57h1.5M490.00 341.57h-1.5M349.70 336.68h1.5M490.00 336.68h-1.5M354.38 575.30v-1.5M354.38 453.90v1.5M359.05 575.30v-1.5M359.05 453.90v1.5M363.73 575.30v-1.5M363.73 453.90v1.5M368.41 575.30v-2.8M368.41 453.90v2.8M373.08 575.30v-1.5M373.08 453.90v1.5M377.76 575.30v-1.5M377.76 453.90v1.5M382.44 575.30v-1.5M382.44 453.90v1.5M387.11 575.30v-2.8M387.11 453.90v2.8M391.79 575.30v-1.5M391.79 453.90v1.5M396.47 575.30v-1.5M396.47 453.90v1.5M401.14 575.30v-1.5M401.14 453.90v1.5M405.82 575.30v-2.8M405.82 453.90v2.8M410.50 575.30v-1.5M410.50 453.90v1.5M415.17 575.30v-1.5M415.17 453.90v1.5M419.85 575.30v-1.5M419.85 453.90v1.5M424.53 575.30v-2.8M424.53 453.90v2.8M429.20 575.30v-1.5M429.20 453.90v1.5M433.88 575.30v-1.5M433.88 453.90v1.5M438.56 575.30v-1.5M438.56 453.90v1.5M443.23 575.30v-2.8M443.23 453.90v2.8M447.91 575.30v-1.5M447.91 453.90v1.5M452.59 575.30v-1.5M452.59 453.90v1.5M457.26 575.30v-1.5M457.26 453.90v1.5M461.94 575.30v-2.8M461.94 453.90v2.8M466.62 575.30v-1.5M466.62 453.90v1.5M471.29 575.30v-1.5M471.29 453.90v1.5M475.97 575.30v-1.5M475.97 453.90v1.5M480.65 575.30v-2.8M480.65 453.90v2.8M485.32 575.30v-1.5M485.32 453.90v1.5M349.70 567.71h1.5M490.00 567.71h-1.5M349.70 560.12h1.5M490.00 560.12h-1.5M349.70 552.54h1.5M490.00 552.54h-1.5M349.70 544.95h2.8M490.00 544.95h-2.8M349.70 537.36h1.5M490.00 537.36h-1.5M349.70 529.77h1.5M490.00 529.77h-1.5M349.70 522.19h1.5M490.00 522.19h-1.5M349.70 514.60h2.8M490.00 514.60h-2.8M349.70 507.01h1.5M490.00 507.01h-1.5M349.70 499.42h1.5M490.00 499.42h-1.5M349.70 491.84h1.5M490.00 491.84h-1.5M349.70 484.25h2.8M490.00 484.25h-2.8M349.70 476.66h1.5M490.00 476.66h-1.5M349.70 469.07h1.5M490.00 469.07h-1.5M349.70 461.49h1.5M490.00 461.49h-1.5" fill="none" stroke="#000" stroke-width="1.0"/>
<path d="M216.7 133.4 L217.1 130.6 L218.7 130.0 L228.4 132.0 L234.1 128.0 L239.7 126.6 L245.4 125.4 L251.4 125.2" fill="none" stroke="#ff0000" stroke-width="2.15" stroke-linejoin="round" stroke-linecap="butt"/>
<path d="M359.1 114.1 L364.6 111.4 L371.3 109.2 L373.6 109.6 L376.9 106.5 L381.4 105.8 L387.0 106.9 L393.7 110.9 L397.0 110.3 L401.5 112.5 L406.0 119.2 L409.3 128.2 L411.1 138.2 L411.5 140.7" fill="none" stroke="#ff0000" stroke-width="2.15" stroke-linejoin="round" stroke-linecap="butt"/>
<path d="M508.9 108.7 L513.7 107.5 L517.2 105.8 L520.2 98.6 L524.4 96.3 L528.5 95.1 L534.5 99.2 L541.0 102.8 L547.5 106.4 L553.5 109.0 L560.0 109.3" fill="none" stroke="#ff0000" stroke-width="2.15" stroke-linejoin="round" stroke-linecap="butt"/>
<path d="M218.0 263.0 L221.4 260.3 L231.5 260.0 L239.4 258.9 L251.8 258.9" fill="none" stroke="#ff0000" stroke-width="2.15" stroke-linejoin="round" stroke-linecap="butt"/>
<path d="M359.1 260.3 L361.3 256.5 L371.3 254.1 L385.9 252.5 L393.7 253.6 L402.6 253.2 L407.5 257.0 L409.8 260.8" fill="none" stroke="#ff0000" stroke-width="2.15" stroke-linejoin="round" stroke-linecap="butt"/>
<path d="M509.0 254.4 L514.6 250.6 L519.1 247.7 L523.5 243.7 L531.3 241.7 L536.9 242.8 L545.9 243.9 L552.6 245.0 L558.2 245.0 L560.4 243.7" fill="none" stroke="#ff0000" stroke-width="2.15" stroke-linejoin="round" stroke-linecap="butt"/>
<path d="M97.6 412.5 L104.8 409.6 L113.7 406.5 L117.0 406.9 L123.7 411.0 L131.6 413.2 L139.4 414.3 L143.9 411.0 L149.4 409.6 L155.0 409.8 L160.6 411.8 L167.3 417.0 L172.9 421.5 L178.5 423.2 L185.2 423.7" fill="none" stroke="#ff0000" stroke-width="2.15" stroke-linejoin="round" stroke-linecap="butt"/>
<path d="M376.0 398.6 L377.3 397.5 L377.4 395.6 L379.1 394.8 L379.3 392.9 L381.1 392.2 L381.3 390.2 L383.0 389.6 L383.6 387.7 L385.5 388.0 L386.6 386.4 L388.5 386.7 L389.8 385.3 L391.6 385.7 L392.9 384.3 L394.4 385.2 L396.3 385.1 L397.3 386.7 L399.2 386.5 L400.2 388.1 L402.2 388.0 L403.0 389.8 L404.9 389.8 L406.2 391.2 L407.8 390.2 L409.4 391.2 L411.2 390.8 L412.2 392.4 L414.1 392.3 L415.3 393.8 L417.1 393.3 L418.4 394.8 L420.2 394.2 L421.7 395.3 L423.4 394.4 L425.0 395.5 L426.7 394.7 L428.3 395.3" fill="none" stroke="#ff0000" stroke-width="2.15" stroke-linejoin="round" stroke-linecap="butt"/>
<path d="M97.6 567.0 L107.0 564.7 L115.9 562.9 L127.1 563.6 L138.3 563.6 L145.0 561.4 L155.0 560.0 L162.9 561.4 L169.6 564.0 L176.3 565.8 L185.6 565.8" fill="none" stroke="#ff0000" stroke-width="2.15" stroke-linejoin="round" stroke-linecap="butt"/>
<path d="M376.4 547.8 L377.9 547.1 L378.6 545.3 L380.4 544.9 L381.1 543.2 L383.0 542.9 L383.8 541.2 L385.6 541.0 L386.5 539.3 L388.3 539.2 L389.2 537.5 L391.0 537.4 L392.2 536.0 L394.1 536.2 L395.5 535.1 L397.1 536.1 L398.6 535.1 L400.5 535.3 L401.7 533.9 L403.5 534.3 L404.9 533.1 L406.7 533.5 L408.2 532.3 L409.9 533.1 L411.4 532.1 L413.1 532.9 L414.8 532.0 L416.3 533.2 L418.1 532.5 L419.6 533.6 L421.1 532.4 L422.9 532.9 L424.3 531.6 L426.1 532.1 L427.5 530.8 L429.2 530.9" fill="none" stroke="#ff0000" stroke-width="2.15" stroke-linejoin="round" stroke-linecap="butt"/>
<path d="M375.4 91.3 L382.5 89.7 L389.2 87.9 L393.7 86.1 L397.0 87.3 L399.3 83.9 L404.9 83.9 L408.2 85.0 L412.7 83.2 L417.2 84.6 L422.7 86.8 L427.2 85.7 L431.7 86.8 L435.0 86.8 L438.4 91.3 L442.9 96.9 L447.3 102.0 L450.7 108.0 L452.9 114.7 L457.4 118.5" fill="none" stroke="#000000" stroke-width="2.15" stroke-linejoin="round" stroke-linecap="butt"/>
<path d="M375.4 242.9 L378.0 241.3 L381.4 242.5 L387.0 238.4 L395.9 235.3 L401.5 230.2 L407.1 230.8 L413.8 225.7 L418.3 222.3 L422.7 223.5 L427.2 221.7 L431.7 223.5 L433.9 216.1 L437.3 222.3 L440.6 223.0 L442.9 226.8 L445.1 225.0 L448.4 234.6 L452.9 246.5 L456.9 253.2" fill="none" stroke="#000000" stroke-width="2.15" stroke-linejoin="round" stroke-linecap="butt"/>
<path d="M108.1 381.9 L115.9 380.1 L123.7 380.8 L128.2 382.3 L132.7 386.8 L136.0 392.0 L140.5 395.8 L145.0 397.5 L151.7 396.4 L158.4 398.4 L165.1 401.3 L171.8 404.2 L178.5 407.4 L187.4 410.9 L196.4 414.7 L202.0 417.0 L206.4 417.7" fill="none" stroke="#000000" stroke-width="2.15" stroke-linejoin="round" stroke-linecap="butt"/>
<path d="M247.4 410.3 L252.6 404.7 L257.0 400.2 L261.5 396.4 L264.9 395.8 L268.2 397.5 L271.6 399.6 L280.5 400.9 L289.4 402.0 L293.9 402.9 L299.5 404.7 L307.3 407.4 L314.0 410.3 L320.7 413.6 L328.6 415.2" fill="none" stroke="#000000" stroke-width="2.15" stroke-linejoin="round" stroke-linecap="butt"/>
<path d="M359.7 419.4 L361.4 419.0 L362.3 417.3 L364.3 417.2 L365.0 415.4 L367.0 415.2 L367.7 413.4 L369.7 413.4 L370.7 411.7 L372.6 412.0 L373.9 410.6 L375.8 411.2 L377.4 410.2 L379.0 411.3 L380.7 410.4 L382.2 411.6 L384.0 410.9 L385.7 411.9 L387.2 410.6 L389.0 411.2 L390.4 409.9 L392.2 410.0 L393.4 408.7" fill="none" stroke="#000000" stroke-width="2.15" stroke-linejoin="round" stroke-linecap="butt"/>
<path d="M108.1 558.0 L117.0 554.7 L127.1 552.4 L132.7 554.0 L142.7 555.8 L151.7 554.7 L160.6 554.7 L167.3 556.2 L176.3 557.3 L185.2 559.1 L196.4 561.8 L206.4 562.9" fill="none" stroke="#000000" stroke-width="2.15" stroke-linejoin="round" stroke-linecap="butt"/>
<path d="M247.4 553.2 L249.2 551.8 L249.8 549.4 L251.8 548.1 L252.2 545.6 L254.2 544.4 L255.2 542.2 L257.6 541.4 L258.4 539.1 L260.5 537.9 L261.1 535.6 L263.7 535.5 L265.4 533.7 L267.9 534.0 L269.8 532.4 L272.2 532.7 L273.7 530.7 L276.2 530.4 L277.7 528.4 L280.1 528.4 L281.7 526.6 L284.1 526.2 L285.4 524.1 L287.8 523.7 L289.2 521.7 L291.7 521.4 L293.6 520.4 L295.8 521.5 L298.1 520.7 L300.3 520.5 L301.8 518.5 L304.2 519.1 L305.9 517.4 L308.3 517.0 L310.1 517.0 L311.3 519.2 L313.1 517.5 L314.9 517.3 L317.3 518.1 L318.3 520.3 L320.6 520.4 L322.7 521.6 L325.1 521.5 L325.9 523.8 L327.4 521.5 L329.2 520.1" fill="none" stroke="#000000" stroke-width="2.15" stroke-linejoin="round" stroke-linecap="butt"/>
<path d="M360.2 573.9 L361.9 573.7 L363.1 572.3 L364.9 572.5 L366.1 571.0 L367.9 571.4 L369.3 570.1 L371.1 570.5 L372.5 569.2 L374.2 569.8 L375.8 568.7 L377.5 569.4 L379.0 568.4 L380.7 569.1 L382.2 568.0 L384.0 568.7 L385.5 567.5 L387.2 568.2 L388.8 567.2 L390.5 567.9 L392.0 566.9 L393.7 567.2" fill="none" stroke="#000000" stroke-width="2.15" stroke-linejoin="round" stroke-linecap="butt"/>
<path d="M96.1 113.2 L99.6 117.9 L103.6 123.5 L107.4 122.0 L113.5 120.2 L118.8 116.5 L124.0 115.7 L131.8 116.7 L136.2 116.7 L142.3 115.7 L151.0 111.8 L157.1 116.2 L159.7 119.7 L163.2 121.4" fill="none" stroke="#0000ff" stroke-width="2.15" stroke-linejoin="round" stroke-linecap="butt"/>
<path d="M213.9 131.8 L221.3 120.3 L226.9 110.3 L233.6 100.9 L242.1 95.1 L248.1 101.3 L252.6 108.0 L257.0 114.3 L260.4 115.4 L264.9 119.9 L268.2 120.3 L273.8 118.1 L279.4 114.3 L285.0 106.9 L291.7 111.0 L298.4 112.5 L306.2 113.0 L311.8 111.0 L318.5 109.6 L326.3 109.2" fill="none" stroke="#0000ff" stroke-width="2.15" stroke-linejoin="round" stroke-linecap="butt"/>
<path d="M504.2 99.8 L509.5 89.1 L516.0 85.6 L520.8 89.7 L524.4 95.7 L529.7 106.4 L532.7 108.1 L536.3 101.6 L543.4 101.0 L549.9 104.6 L557.1 107.0 L565.4 107.5" fill="none" stroke="#0000ff" stroke-width="2.15" stroke-linejoin="round" stroke-linecap="butt"/>
<path d="M96.3 255.7 L103.6 257.9 L110.3 257.3 L119.3 255.0 L127.1 254.1 L140.5 253.5 L151.7 251.2 L158.4 253.9 L162.9 255.7" fill="none" stroke="#0000ff" stroke-width="2.15" stroke-linejoin="round" stroke-linecap="butt"/>
<path d="M213.5 262.5 L216.9 262.5 L221.4 257.8 L225.9 256.7 L233.8 253.7 L241.6 251.6 L248.4 253.3 L257.4 256.7 L265.3 258.0 L273.1 256.9 L280.0 253.3 L285.0 251.5 L292.8 253.3 L299.5 253.7 L305.1 252.2 L314.0 250.6 L325.2 248.8" fill="none" stroke="#0000ff" stroke-width="2.15" stroke-linejoin="round" stroke-linecap="butt"/>
<path d="M503.9 255.5 L509.0 251.1 L516.4 246.6 L521.3 248.4 L526.9 252.2 L531.3 253.7 L535.8 250.4 L543.6 249.5 L552.6 251.1 L559.3 251.7 L565.5 250.4" fill="none" stroke="#0000ff" stroke-width="2.15" stroke-linejoin="round" stroke-linecap="butt"/>
<path d="M366.1 388.4 L367.2 387.2 L367.0 385.3 L368.5 384.4 L368.9 382.6 L370.7 381.8 L370.1 380.0 L371.5 378.7 L370.9 376.9 L372.4 375.7 L372.0 373.8 L373.5 372.7 L373.3 370.7 L375.1 370.1 L375.3 368.2 L377.1 367.8 L377.7 366.0 L379.6 365.7 L379.8 364.1 L381.1 362.7 L380.5 360.9 L381.9 359.6 L381.8 357.7 L383.7 357.6 L384.4 355.9 L386.3 356.0 L387.3 354.4 L389.3 354.6 L390.0 352.8 L391.9 352.7 L392.9 351.1 L394.6 352.0 L396.1 350.9 L397.8 351.7 L399.4 350.6 L400.9 351.9 L402.6 351.1 L404.0 352.4 L405.8 351.9 L407.1 353.3 L408.8 353.2 L409.7 354.8 L411.5 354.7 L412.7 356.1 L414.6 355.7 L415.6 357.3 L417.4 357.3 L418.2 359.1 L420.1 359.1 L421.0 360.7 L422.9 360.7 L423.8 362.3 L425.6 362.1 L426.9 363.5 L428.7 363.0 L429.9 364.4 L431.7 364.3 L432.6 365.9 L434.5 365.9 L435.4 367.5 L437.3 367.3 L438.4 368.8 L440.2 368.6 L441.5 369.7" fill="none" stroke="#0000ff" stroke-width="2.15" stroke-linejoin="round" stroke-linecap="butt"/>
<path d="M366.4 557.5 L367.6 556.3 L367.6 554.5 L369.2 553.5 L369.3 551.7 L370.9 550.7 L370.9 548.8 L372.4 547.9 L372.5 546.0 L374.0 545.1 L374.3 543.3 L376.1 542.6 L376.4 540.8 L378.2 540.2 L378.7 538.4 L380.2 537.5 L380.0 535.7 L381.4 534.5 L381.4 532.7 L383.1 531.8 L383.2 530.0 L384.9 529.3 L385.6 527.6 L387.4 527.3 L388.1 525.6 L389.9 525.2 L390.6 523.5 L392.4 523.1 L392.9 521.3 L394.6 520.7 L395.1 518.9 L396.8 518.3 L397.1 516.5 L398.9 515.8 L399.2 513.9 L400.9 513.3 L401.7 511.7 L403.5 511.6 L404.2 509.8 L405.9 509.3 L406.4 507.5 L408.3 507.8 L409.8 506.7 L411.6 506.9 L412.2 505.4 L413.7 504.3 L414.1 502.4 L415.6 503.5 L417.0 502.8 L418.9 502.8 L419.9 501.3 L421.7 501.6 L423.1 500.3 L424.8 500.4 L425.8 498.8 L427.6 498.8 L428.6 497.2 L430.4 497.5 L431.9 496.4 L433.2 495.7 L433.8 493.9 L435.3 495.0 L437.1 494.7 L438.3 495.3 L438.0 493.5 L439.4 492.2 L439.7 490.5 L441.3 490.0" fill="none" stroke="#0000ff" stroke-width="2.15" stroke-linejoin="round" stroke-linecap="butt"/>
<path d="M95.6 86.9 L99.6 83.6 L103.1 83.4 L109.2 83.9 L116.2 85.2 L120.5 86.9 L124.9 90.6 L131.0 94.1 L137.9 94.4 L142.3 95.3 L149.3 97.5 L153.6 97.9 L155.4 98.4 L158.0 96.7 L162.3 97.5 L166.7 99.6 L171.1 99.6 L175.4 100.9 L179.8 101.9 L181.5 100.2 L184.7 101.4" fill="none" stroke="#ff7f00" stroke-width="2.15" stroke-linejoin="round" stroke-linecap="butt"/>
<path d="M239.2 99.8 L244.8 97.5 L249.2 91.3 L253.7 85.7 L259.3 83.5 L263.7 84.1 L268.2 85.7 L272.7 84.6 L277.2 84.1 L281.6 87.3 L286.1 88.6 L290.6 86.8 L295.0 88.4 L302.9 89.0 L308.4 88.4 L316.3 89.7 L323.0 91.3 L329.7 92.0 L333.0 93.1 L337.5 90.8 L343.1 91.3 L349.3 93.1" fill="none" stroke="#ff7f00" stroke-width="2.15" stroke-linejoin="round" stroke-linecap="butt"/>
<path d="M376.9 83.9 L382.5 82.3 L390.3 77.9 L394.8 76.3 L400.4 75.2 L403.7 77.9 L407.1 77.4 L412.7 80.1 L418.3 81.9 L421.6 81.5 L426.1 83.0 L431.7 84.6 L435.0 83.5 L438.4 85.7 L441.7 85.0 L447.3 88.6 L454.0 93.5 L458.5 96.4 L463.0 100.9 L468.6 102.9" fill="none" stroke="#ff7f00" stroke-width="2.15" stroke-linejoin="round" stroke-linecap="butt"/>
<path d="M511.9 108.1 L514.9 105.2 L517.8 95.7 L522.0 80.2 L527.3 70.1 L532.7 70.9 L538.0 76.6 L543.4 83.2 L547.5 86.2 L552.3 89.1 L557.1 93.9 L560.6 94.5 L568.3 93.6" fill="none" stroke="#ff7f00" stroke-width="2.15" stroke-linejoin="round" stroke-linecap="butt"/>
<path d="M99.8 381.9 L104.8 380.8 L111.5 377.4 L118.2 373.0 L124.9 370.7 L129.8 370.5 L134.9 374.5 L138.3 380.1 L142.7 386.4 L149.4 392.0 L156.2 394.2 L162.9 396.4 L168.4 396.4 L174.0 398.7 L180.7 400.9 L187.4 403.6 L194.1 406.5 L200.8 408.7 L208.7 412.5" fill="none" stroke="#ff7f00" stroke-width="2.15" stroke-linejoin="round" stroke-linecap="butt"/>
<path d="M243.6 409.6 L248.1 406.9 L253.7 400.2 L259.3 393.5 L264.9 389.5 L270.5 388.6 L276.0 386.8 L280.5 386.1 L286.1 387.5 L290.6 390.2 L296.2 391.3 L300.6 392.0 L307.3 395.1 L314.0 396.9 L320.7 398.4 L327.4 400.2 L333.0 401.3 L337.5 400.9 L342.0 401.8" fill="none" stroke="#ff7f00" stroke-width="2.15" stroke-linejoin="round" stroke-linecap="butt"/>
<path d="M370.9 347.3 L378.0 345.1 L387.0 342.8 L398.2 341.3 L409.3 341.0 L416.0 341.7 L425.0 343.9 L433.9 347.3 L442.9 350.6 L454.0 354.7" fill="none" stroke="#ff7f00" stroke-width="2.15" stroke-linejoin="round" stroke-linecap="butt"/>
<text x="76.30" y="12.4" font-size="15.8" font-family="Liberation Serif, serif" font-weight="normal" fill="#000" text-anchor="start" textLength="20.90" lengthAdjust="spacingAndGlyphs" stroke="#000" stroke-width="0.3">(1)</text>
<text x="105.70" y="12.4" font-size="15.8" font-family="Liberation Serif, serif" font-weight="normal" fill="#000" text-anchor="start" textLength="36.50" lengthAdjust="spacingAndGlyphs" stroke="#000" stroke-width="0.3">2010</text>
<path d="M144.20 7.40H152.50M174.20 7.40H182.40" stroke="#000" stroke-width="1.2"/>
<text x="154.40" y="12.4" font-size="15.8" font-family="Liberation Serif, serif" font-weight="normal" fill="#000" text-anchor="start" textLength="18.40" lengthAdjust="spacingAndGlyphs" stroke="#000" stroke-width="0.3">03</text>
<text x="184.40" y="12.4" font-size="15.8" font-family="Liberation Serif, serif" font-weight="normal" fill="#000" text-anchor="start" textLength="17.80" lengthAdjust="spacingAndGlyphs" stroke="#000" stroke-width="0.3">06</text>
<text x="174.00" y="40.20" font-size="20" font-family="Liberation Serif, serif" font-weight="normal" fill="#000" text-anchor="start" stroke="#000" stroke-width="0.3">(</text>
<text x="181.90" y="40.20" font-size="17" font-family="Liberation Serif, serif" font-weight="normal" fill="#000" text-anchor="start" textLength="9.0" lengthAdjust="spacingAndGlyphs" stroke="#000" stroke-width="0.3">a</text>
<text x="193.00" y="40.20" font-size="20" font-family="Liberation Serif, serif" font-weight="normal" fill="#000" text-anchor="start" stroke="#000" stroke-width="0.3">)</text>
<text x="78.70" y="162.80" font-size="20" font-family="Liberation Serif, serif" font-weight="normal" fill="#000" text-anchor="start" stroke="#000" stroke-width="0.3">(</text>
<text x="87.20" y="162.80" font-size="17" font-family="Liberation Serif, serif" font-weight="normal" fill="#000" text-anchor="start" textLength="10.0" lengthAdjust="spacingAndGlyphs" stroke="#000" stroke-width="0.3">b</text>
<text x="98.70" y="162.80" font-size="20" font-family="Liberation Serif, serif" font-weight="normal" fill="#000" text-anchor="start" stroke="#000" stroke-width="0.3">)</text>
<text x="68.8" y="278.6" font-size="12.3" font-family="Liberation Sans, sans-serif" font-weight="normal" fill="#000" text-anchor="middle" stroke="#fff" stroke-width="0.2">0</text>
<text x="87.5" y="278.6" font-size="12.3" font-family="Liberation Sans, sans-serif" font-weight="normal" fill="#000" text-anchor="middle" stroke="#fff" stroke-width="0.2">2</text>
<text x="106.2" y="278.6" font-size="12.3" font-family="Liberation Sans, sans-serif" font-weight="normal" fill="#000" text-anchor="middle" stroke="#fff" stroke-width="0.2">4</text>
<text x="124.9" y="278.6" font-size="12.3" font-family="Liberation Sans, sans-serif" font-weight="normal" fill="#000" text-anchor="middle" stroke="#fff" stroke-width="0.2">6</text>
<text x="143.6" y="278.6" font-size="12.3" font-family="Liberation Sans, sans-serif" font-weight="normal" fill="#000" text-anchor="middle" stroke="#fff" stroke-width="0.2">8</text>
<text x="155.9" y="278.6" font-size="12.3" font-family="Liberation Sans, sans-serif" font-weight="normal" fill="#000" text-anchor="start" textLength="12.8" lengthAdjust="spacingAndGlyphs" stroke="#fff" stroke-width="0.2">10</text>
<text x="174.6" y="278.6" font-size="12.3" font-family="Liberation Sans, sans-serif" font-weight="normal" fill="#000" text-anchor="start" textLength="12.8" lengthAdjust="spacingAndGlyphs" stroke="#fff" stroke-width="0.2">12</text>
<text x="120.95" y="292.3" font-size="12.2" font-family="Liberation Sans, sans-serif" font-weight="normal" fill="#000" text-anchor="start" textLength="7.6" lengthAdjust="spacingAndGlyphs" stroke="#fff" stroke-width="0.05">R</text>
<text x="134.75" y="292.3" font-size="13.5" font-family="Liberation Sans, sans-serif" font-weight="normal" fill="#000" text-anchor="start" textLength="4.0" lengthAdjust="spacingAndGlyphs" stroke="#fff" stroke-width="0.05">(</text>
<text x="139.75" y="292.3" font-size="12.2" font-family="Liberation Sans, sans-serif" font-weight="normal" fill="#000" text-anchor="start" textLength="7.6" lengthAdjust="spacingAndGlyphs" stroke="#fff" stroke-width="0.05">R</text>
<text x="146.65" y="295.6" font-size="8.5" font-family="Liberation Sans, sans-serif" font-weight="normal" fill="#000" text-anchor="start" textLength="5.4" lengthAdjust="spacingAndGlyphs" stroke="#fff" stroke-width="0.05">S</text>
<text x="152.65" y="292.3" font-size="13.5" font-family="Liberation Sans, sans-serif" font-weight="normal" fill="#000" text-anchor="start" textLength="4.0" lengthAdjust="spacingAndGlyphs" stroke="#fff" stroke-width="0.05">)</text>
<text x="216.60" y="12.4" font-size="15.8" font-family="Liberation Serif, serif" font-weight="normal" fill="#000" text-anchor="start" textLength="20.90" lengthAdjust="spacingAndGlyphs" stroke="#000" stroke-width="0.3">(3)</text>
<text x="246.00" y="12.4" font-size="15.8" font-family="Liberation Serif, serif" font-weight="normal" fill="#000" text-anchor="start" textLength="36.50" lengthAdjust="spacingAndGlyphs" stroke="#000" stroke-width="0.3">2011</text>
<path d="M284.50 7.40H292.80M314.50 7.40H322.70" stroke="#000" stroke-width="1.2"/>
<text x="294.70" y="12.4" font-size="15.8" font-family="Liberation Serif, serif" font-weight="normal" fill="#000" text-anchor="start" textLength="18.40" lengthAdjust="spacingAndGlyphs" stroke="#000" stroke-width="0.3">05</text>
<text x="324.70" y="12.4" font-size="15.8" font-family="Liberation Serif, serif" font-weight="normal" fill="#000" text-anchor="start" textLength="17.80" lengthAdjust="spacingAndGlyphs" stroke="#000" stroke-width="0.3">06</text>
<text x="314.20" y="40.20" font-size="20" font-family="Liberation Serif, serif" font-weight="normal" fill="#000" text-anchor="start" stroke="#000" stroke-width="0.3">(</text>
<text x="322.10" y="40.20" font-size="17" font-family="Liberation Serif, serif" font-weight="normal" fill="#000" text-anchor="start" textLength="9.0" lengthAdjust="spacingAndGlyphs" stroke="#000" stroke-width="0.3">a</text>
<text x="333.20" y="40.20" font-size="20" font-family="Liberation Serif, serif" font-weight="normal" fill="#000" text-anchor="start" stroke="#000" stroke-width="0.3">)</text>
<text x="219.00" y="162.80" font-size="20" font-family="Liberation Serif, serif" font-weight="normal" fill="#000" text-anchor="start" stroke="#000" stroke-width="0.3">(</text>
<text x="227.50" y="162.80" font-size="17" font-family="Liberation Serif, serif" font-weight="normal" fill="#000" text-anchor="start" textLength="10.0" lengthAdjust="spacingAndGlyphs" stroke="#000" stroke-width="0.3">b</text>
<text x="239.00" y="162.80" font-size="20" font-family="Liberation Serif, serif" font-weight="normal" fill="#000" text-anchor="start" stroke="#000" stroke-width="0.3">)</text>
<text x="227.8" y="279.7" font-size="12.3" font-family="Liberation Sans, sans-serif" font-weight="normal" fill="#000" text-anchor="middle" stroke="#fff" stroke-width="0.2">2</text>
<text x="246.5" y="279.7" font-size="12.3" font-family="Liberation Sans, sans-serif" font-weight="normal" fill="#000" text-anchor="middle" stroke="#fff" stroke-width="0.2">4</text>
<text x="265.2" y="279.7" font-size="12.3" font-family="Liberation Sans, sans-serif" font-weight="normal" fill="#000" text-anchor="middle" stroke="#fff" stroke-width="0.2">6</text>
<text x="283.9" y="279.7" font-size="12.3" font-family="Liberation Sans, sans-serif" font-weight="normal" fill="#000" text-anchor="middle" stroke="#fff" stroke-width="0.2">8</text>
<text x="296.2" y="279.7" font-size="12.3" font-family="Liberation Sans, sans-serif" font-weight="normal" fill="#000" text-anchor="start" textLength="12.8" lengthAdjust="spacingAndGlyphs" stroke="#fff" stroke-width="0.2">10</text>
<text x="314.9" y="279.7" font-size="12.3" font-family="Liberation Sans, sans-serif" font-weight="normal" fill="#000" text-anchor="start" textLength="12.8" lengthAdjust="spacingAndGlyphs" stroke="#fff" stroke-width="0.2">12</text>
<text x="261.20" y="293.4" font-size="12.2" font-family="Liberation Sans, sans-serif" font-weight="normal" fill="#000" text-anchor="start" textLength="7.6" lengthAdjust="spacingAndGlyphs" stroke="#fff" stroke-width="0.05">R</text>
<text x="275.00" y="293.4" font-size="13.5" font-family="Liberation Sans, sans-serif" font-weight="normal" fill="#000" text-anchor="start" textLength="4.0" lengthAdjust="spacingAndGlyphs" stroke="#fff" stroke-width="0.05">(</text>
<text x="280.00" y="293.4" font-size="12.2" font-family="Liberation Sans, sans-serif" font-weight="normal" fill="#000" text-anchor="start" textLength="7.6" lengthAdjust="spacingAndGlyphs" stroke="#fff" stroke-width="0.05">R</text>
<text x="286.90" y="296.7" font-size="8.5" font-family="Liberation Sans, sans-serif" font-weight="normal" fill="#000" text-anchor="start" textLength="5.4" lengthAdjust="spacingAndGlyphs" stroke="#fff" stroke-width="0.05">S</text>
<text x="292.90" y="293.4" font-size="13.5" font-family="Liberation Sans, sans-serif" font-weight="normal" fill="#000" text-anchor="start" textLength="4.0" lengthAdjust="spacingAndGlyphs" stroke="#fff" stroke-width="0.05">)</text>
<text x="356.80" y="12.4" font-size="15.8" font-family="Liberation Serif, serif" font-weight="normal" fill="#000" text-anchor="start" textLength="20.90" lengthAdjust="spacingAndGlyphs" stroke="#000" stroke-width="0.3">(4)</text>
<text x="386.20" y="12.4" font-size="15.8" font-family="Liberation Serif, serif" font-weight="normal" fill="#000" text-anchor="start" textLength="36.50" lengthAdjust="spacingAndGlyphs" stroke="#000" stroke-width="0.3">2011</text>
<path d="M424.70 7.40H433.00M454.70 7.40H462.90" stroke="#000" stroke-width="1.2"/>
<text x="434.90" y="12.4" font-size="15.8" font-family="Liberation Serif, serif" font-weight="normal" fill="#000" text-anchor="start" textLength="18.40" lengthAdjust="spacingAndGlyphs" stroke="#000" stroke-width="0.3">05</text>
<text x="464.90" y="12.4" font-size="15.8" font-family="Liberation Serif, serif" font-weight="normal" fill="#000" text-anchor="start" textLength="17.80" lengthAdjust="spacingAndGlyphs" stroke="#000" stroke-width="0.3">18</text>
<text x="454.50" y="40.20" font-size="20" font-family="Liberation Serif, serif" font-weight="normal" fill="#000" text-anchor="start" stroke="#000" stroke-width="0.3">(</text>
<text x="462.40" y="40.20" font-size="17" font-family="Liberation Serif, serif" font-weight="normal" fill="#000" text-anchor="start" textLength="9.0" lengthAdjust="spacingAndGlyphs" stroke="#000" stroke-width="0.3">a</text>
<text x="473.50" y="40.20" font-size="20" font-family="Liberation Serif, serif" font-weight="normal" fill="#000" text-anchor="start" stroke="#000" stroke-width="0.3">)</text>
<text x="359.20" y="162.80" font-size="20" font-family="Liberation Serif, serif" font-weight="normal" fill="#000" text-anchor="start" stroke="#000" stroke-width="0.3">(</text>
<text x="367.70" y="162.80" font-size="17" font-family="Liberation Serif, serif" font-weight="normal" fill="#000" text-anchor="start" textLength="10.0" lengthAdjust="spacingAndGlyphs" stroke="#000" stroke-width="0.3">b</text>
<text x="379.20" y="162.80" font-size="20" font-family="Liberation Serif, serif" font-weight="normal" fill="#000" text-anchor="start" stroke="#000" stroke-width="0.3">)</text>
<text x="368.0" y="279.7" font-size="12.3" font-family="Liberation Sans, sans-serif" font-weight="normal" fill="#000" text-anchor="middle" stroke="#fff" stroke-width="0.2">2</text>
<text x="386.7" y="279.7" font-size="12.3" font-family="Liberation Sans, sans-serif" font-weight="normal" fill="#000" text-anchor="middle" stroke="#fff" stroke-width="0.2">4</text>
<text x="405.4" y="279.7" font-size="12.3" font-family="Liberation Sans, sans-serif" font-weight="normal" fill="#000" text-anchor="middle" stroke="#fff" stroke-width="0.2">6</text>
<text x="424.1" y="279.7" font-size="12.3" font-family="Liberation Sans, sans-serif" font-weight="normal" fill="#000" text-anchor="middle" stroke="#fff" stroke-width="0.2">8</text>
<text x="436.4" y="279.7" font-size="12.3" font-family="Liberation Sans, sans-serif" font-weight="normal" fill="#000" text-anchor="start" textLength="12.8" lengthAdjust="spacingAndGlyphs" stroke="#fff" stroke-width="0.2">10</text>
<text x="455.1" y="279.7" font-size="12.3" font-family="Liberation Sans, sans-serif" font-weight="normal" fill="#000" text-anchor="start" textLength="12.8" lengthAdjust="spacingAndGlyphs" stroke="#fff" stroke-width="0.2">12</text>
<text x="401.45" y="293.4" font-size="12.2" font-family="Liberation Sans, sans-serif" font-weight="normal" fill="#000" text-anchor="start" textLength="7.6" lengthAdjust="spacingAndGlyphs" stroke="#fff" stroke-width="0.05">R</text>
<text x="415.25" y="293.4" font-size="13.5" font-family="Liberation Sans, sans-serif" font-weight="normal" fill="#000" text-anchor="start" textLength="4.0" lengthAdjust="spacingAndGlyphs" stroke="#fff" stroke-width="0.05">(</text>
<text x="420.25" y="293.4" font-size="12.2" font-family="Liberation Sans, sans-serif" font-weight="normal" fill="#000" text-anchor="start" textLength="7.6" lengthAdjust="spacingAndGlyphs" stroke="#fff" stroke-width="0.05">R</text>
<text x="427.15" y="296.7" font-size="8.5" font-family="Liberation Sans, sans-serif" font-weight="normal" fill="#000" text-anchor="start" textLength="5.4" lengthAdjust="spacingAndGlyphs" stroke="#fff" stroke-width="0.05">S</text>
<text x="433.15" y="293.4" font-size="13.5" font-family="Liberation Sans, sans-serif" font-weight="normal" fill="#000" text-anchor="start" textLength="4.0" lengthAdjust="spacingAndGlyphs" stroke="#fff" stroke-width="0.05">)</text>
<text x="497.10" y="12.4" font-size="15.8" font-family="Liberation Serif, serif" font-weight="normal" fill="#000" text-anchor="start" textLength="20.90" lengthAdjust="spacingAndGlyphs" stroke="#000" stroke-width="0.3">(5)</text>
<text x="526.50" y="12.4" font-size="15.8" font-family="Liberation Serif, serif" font-weight="normal" fill="#000" text-anchor="start" textLength="36.50" lengthAdjust="spacingAndGlyphs" stroke="#000" stroke-width="0.3">2011</text>
<path d="M565.00 7.40H573.30M595.00 7.40H603.20" stroke="#000" stroke-width="1.2"/>
<text x="575.20" y="12.4" font-size="15.8" font-family="Liberation Serif, serif" font-weight="normal" fill="#000" text-anchor="start" textLength="18.40" lengthAdjust="spacingAndGlyphs" stroke="#000" stroke-width="0.3">10</text>
<text x="605.20" y="12.4" font-size="15.8" font-family="Liberation Serif, serif" font-weight="normal" fill="#000" text-anchor="start" textLength="17.80" lengthAdjust="spacingAndGlyphs" stroke="#000" stroke-width="0.3">01</text>
<text x="594.80" y="40.20" font-size="20" font-family="Liberation Serif, serif" font-weight="normal" fill="#000" text-anchor="start" stroke="#000" stroke-width="0.3">(</text>
<text x="602.70" y="40.20" font-size="17" font-family="Liberation Serif, serif" font-weight="normal" fill="#000" text-anchor="start" textLength="9.0" lengthAdjust="spacingAndGlyphs" stroke="#000" stroke-width="0.3">a</text>
<text x="613.80" y="40.20" font-size="20" font-family="Liberation Serif, serif" font-weight="normal" fill="#000" text-anchor="start" stroke="#000" stroke-width="0.3">)</text>
<text x="499.50" y="162.80" font-size="20" font-family="Liberation Serif, serif" font-weight="normal" fill="#000" text-anchor="start" stroke="#000" stroke-width="0.3">(</text>
<text x="508.00" y="162.80" font-size="17" font-family="Liberation Serif, serif" font-weight="normal" fill="#000" text-anchor="start" textLength="10.0" lengthAdjust="spacingAndGlyphs" stroke="#000" stroke-width="0.3">b</text>
<text x="519.50" y="162.80" font-size="20" font-family="Liberation Serif, serif" font-weight="normal" fill="#000" text-anchor="start" stroke="#000" stroke-width="0.3">)</text>
<text x="508.3" y="279.7" font-size="12.3" font-family="Liberation Sans, sans-serif" font-weight="normal" fill="#000" text-anchor="middle" stroke="#fff" stroke-width="0.2">2</text>
<text x="527.0" y="279.7" font-size="12.3" font-family="Liberation Sans, sans-serif" font-weight="normal" fill="#000" text-anchor="middle" stroke="#fff" stroke-width="0.2">4</text>
<text x="545.7" y="279.7" font-size="12.3" font-family="Liberation Sans, sans-serif" font-weight="normal" fill="#000" text-anchor="middle" stroke="#fff" stroke-width="0.2">6</text>
<text x="564.4" y="279.7" font-size="12.3" font-family="Liberation Sans, sans-serif" font-weight="normal" fill="#000" text-anchor="middle" stroke="#fff" stroke-width="0.2">8</text>
<text x="576.7" y="279.7" font-size="12.3" font-family="Liberation Sans, sans-serif" font-weight="normal" fill="#000" text-anchor="start" textLength="12.8" lengthAdjust="spacingAndGlyphs" stroke="#fff" stroke-width="0.2">10</text>
<text x="595.4" y="279.7" font-size="12.3" font-family="Liberation Sans, sans-serif" font-weight="normal" fill="#000" text-anchor="start" textLength="12.8" lengthAdjust="spacingAndGlyphs" stroke="#fff" stroke-width="0.2">12</text>
<text x="614.1" y="279.7" font-size="12.3" font-family="Liberation Sans, sans-serif" font-weight="normal" fill="#000" text-anchor="start" textLength="12.8" lengthAdjust="spacingAndGlyphs" stroke="#fff" stroke-width="0.2">14</text>
<text x="541.75" y="293.4" font-size="12.2" font-family="Liberation Sans, sans-serif" font-weight="normal" fill="#000" text-anchor="start" textLength="7.6" lengthAdjust="spacingAndGlyphs" stroke="#fff" stroke-width="0.05">R</text>
<text x="555.55" y="293.4" font-size="13.5" font-family="Liberation Sans, sans-serif" font-weight="normal" fill="#000" text-anchor="start" textLength="4.0" lengthAdjust="spacingAndGlyphs" stroke="#fff" stroke-width="0.05">(</text>
<text x="560.55" y="293.4" font-size="12.2" font-family="Liberation Sans, sans-serif" font-weight="normal" fill="#000" text-anchor="start" textLength="7.6" lengthAdjust="spacingAndGlyphs" stroke="#fff" stroke-width="0.05">R</text>
<text x="567.45" y="296.7" font-size="8.5" font-family="Liberation Sans, sans-serif" font-weight="normal" fill="#000" text-anchor="start" textLength="5.4" lengthAdjust="spacingAndGlyphs" stroke="#fff" stroke-width="0.05">S</text>
<text x="573.45" y="293.4" font-size="13.5" font-family="Liberation Sans, sans-serif" font-weight="normal" fill="#000" text-anchor="start" textLength="4.0" lengthAdjust="spacingAndGlyphs" stroke="#fff" stroke-width="0.05">)</text>
<text x="36.1" y="123.0" font-size="15.8" font-family="Liberation Sans, sans-serif" fill="#000" stroke="#fff" stroke-width="0.3" textLength="28.2" lengthAdjust="spacing">500</text>
<text x="26.7" y="98.6" font-size="15.8" font-family="Liberation Sans, sans-serif" fill="#000" stroke="#fff" stroke-width="0.3" textLength="37.6" lengthAdjust="spacing">1000</text>
<text x="26.7" y="74.2" font-size="15.8" font-family="Liberation Sans, sans-serif" fill="#000" stroke="#fff" stroke-width="0.3" textLength="37.6" lengthAdjust="spacing">1500</text>
<text x="26.7" y="49.8" font-size="15.8" font-family="Liberation Sans, sans-serif" fill="#000" stroke="#fff" stroke-width="0.3" textLength="37.6" lengthAdjust="spacing">2000</text>
<text x="26.7" y="30.1" font-size="15.8" font-family="Liberation Sans, sans-serif" fill="#000" stroke="#fff" stroke-width="0.3" textLength="37.6" lengthAdjust="spacing">2500</text>
<text x="54.9" y="262.8" font-size="15.8" font-family="Liberation Sans, sans-serif" fill="#000" stroke="#fff" stroke-width="0.3" textLength="9.4" lengthAdjust="spacing">0</text>
<text x="54.9" y="238.4" font-size="15.8" font-family="Liberation Sans, sans-serif" fill="#000" stroke="#fff" stroke-width="0.3" textLength="9.4" lengthAdjust="spacing">2</text>
<text x="54.9" y="208.3" font-size="15.8" font-family="Liberation Sans, sans-serif" fill="#000" stroke="#fff" stroke-width="0.3" textLength="9.4" lengthAdjust="spacing">4</text>
<text x="54.9" y="178.2" font-size="15.8" font-family="Liberation Sans, sans-serif" fill="#000" stroke="#fff" stroke-width="0.3" textLength="9.4" lengthAdjust="spacing">6</text>
<text x="54.9" y="152.5" font-size="15.8" font-family="Liberation Sans, sans-serif" fill="#000" stroke="#fff" stroke-width="0.3" textLength="9.4" lengthAdjust="spacing">8</text>
<text transform="translate(12.00 121.10) rotate(-90)" x="0" y="0" font-size="13.5" font-family="Liberation Sans, sans-serif" fill="#000" stroke="#fff" stroke-width="0.05" textLength="8.50" lengthAdjust="spacingAndGlyphs">V</text>
<text transform="translate(16.80 112.40) rotate(-90)" x="0" y="0" font-size="9.5" font-family="Liberation Sans, sans-serif" fill="#000" stroke="#fff" stroke-width="0.05" textLength="5.00" lengthAdjust="spacingAndGlyphs">s</text>
<text transform="translate(16.80 106.90) rotate(-90)" x="0" y="0" font-size="9.5" font-family="Liberation Sans, sans-serif" fill="#000" stroke="#fff" stroke-width="0.05" textLength="5.20" lengthAdjust="spacingAndGlyphs">h</text>
<text transform="translate(13.00 86.40) rotate(-90)" x="0" y="0" font-size="14.5" font-family="Liberation Sans, sans-serif" fill="#000" stroke="#fff" stroke-width="0.05" textLength="9.00" lengthAdjust="spacingAndGlyphs">k</text>
<text transform="translate(13.00 76.50) rotate(-90)" x="0" y="0" font-size="14.5" font-family="Liberation Sans, sans-serif" fill="#000" stroke="#fff" stroke-width="0.05" textLength="10.90" lengthAdjust="spacingAndGlyphs">m</text>
<text transform="translate(13.00 54.30) rotate(-90)" x="0" y="0" font-size="14.5" font-family="Liberation Sans, sans-serif" fill="#000" stroke="#fff" stroke-width="0.05" textLength="7.10" lengthAdjust="spacingAndGlyphs">s</text>
<path d="M1 88.90 V91.90 H16.3 V88.90 M16.3 64.00 L1 55.20 M1 44.60 V41.40 H16.3 V44.60" fill="none" stroke="#000" stroke-width="1.0"/>
<text transform="translate(18.00 209.40) rotate(-90)" x="0" y="0" font-size="13.5" font-family="Liberation Sans, sans-serif" fill="#000" stroke="#fff" stroke-width="0.05" textLength="10.20" lengthAdjust="spacingAndGlyphs">M</text>
<text transform="translate(21.80 198.80) rotate(-90)" x="0" y="0" font-size="9.5" font-family="Liberation Sans, sans-serif" fill="#000" stroke="#fff" stroke-width="0.05" textLength="5.60" lengthAdjust="spacingAndGlyphs">A</text>
<text x="76.30" y="325.8" font-size="15.8" font-family="Liberation Serif, serif" font-weight="normal" fill="#000" text-anchor="start" textLength="20.90" lengthAdjust="spacingAndGlyphs" stroke="#000" stroke-width="0.3">(7)</text>
<text x="105.70" y="325.8" font-size="15.8" font-family="Liberation Serif, serif" font-weight="normal" fill="#000" text-anchor="start" textLength="36.50" lengthAdjust="spacingAndGlyphs" stroke="#000" stroke-width="0.3">2012</text>
<path d="M144.20 320.80H152.50M174.20 320.80H182.40" stroke="#000" stroke-width="1.2"/>
<text x="154.40" y="325.8" font-size="15.8" font-family="Liberation Serif, serif" font-weight="normal" fill="#000" text-anchor="start" textLength="18.40" lengthAdjust="spacingAndGlyphs" stroke="#000" stroke-width="0.3">06</text>
<text x="184.40" y="325.8" font-size="15.8" font-family="Liberation Serif, serif" font-weight="normal" fill="#000" text-anchor="start" textLength="17.80" lengthAdjust="spacingAndGlyphs" stroke="#000" stroke-width="0.3">23</text>
<text x="174.00" y="353.60" font-size="20" font-family="Liberation Serif, serif" font-weight="normal" fill="#000" text-anchor="start" stroke="#000" stroke-width="0.3">(</text>
<text x="181.90" y="353.60" font-size="17" font-family="Liberation Serif, serif" font-weight="normal" fill="#000" text-anchor="start" textLength="9.0" lengthAdjust="spacingAndGlyphs" stroke="#000" stroke-width="0.3">a</text>
<text x="193.00" y="353.60" font-size="20" font-family="Liberation Serif, serif" font-weight="normal" fill="#000" text-anchor="start" stroke="#000" stroke-width="0.3">)</text>
<text x="78.70" y="476.20" font-size="20" font-family="Liberation Serif, serif" font-weight="normal" fill="#000" text-anchor="start" stroke="#000" stroke-width="0.3">(</text>
<text x="87.20" y="476.20" font-size="17" font-family="Liberation Serif, serif" font-weight="normal" fill="#000" text-anchor="start" textLength="10.0" lengthAdjust="spacingAndGlyphs" stroke="#000" stroke-width="0.3">b</text>
<text x="98.70" y="476.20" font-size="20" font-family="Liberation Serif, serif" font-weight="normal" fill="#000" text-anchor="start" stroke="#000" stroke-width="0.3">)</text>
<text x="68.8" y="592.6" font-size="12.3" font-family="Liberation Sans, sans-serif" font-weight="normal" fill="#000" text-anchor="middle" stroke="#fff" stroke-width="0.2">0</text>
<text x="87.5" y="592.6" font-size="12.3" font-family="Liberation Sans, sans-serif" font-weight="normal" fill="#000" text-anchor="middle" stroke="#fff" stroke-width="0.2">2</text>
<text x="106.2" y="592.6" font-size="12.3" font-family="Liberation Sans, sans-serif" font-weight="normal" fill="#000" text-anchor="middle" stroke="#fff" stroke-width="0.2">4</text>
<text x="124.9" y="592.6" font-size="12.3" font-family="Liberation Sans, sans-serif" font-weight="normal" fill="#000" text-anchor="middle" stroke="#fff" stroke-width="0.2">6</text>
<text x="143.6" y="592.6" font-size="12.3" font-family="Liberation Sans, sans-serif" font-weight="normal" fill="#000" text-anchor="middle" stroke="#fff" stroke-width="0.2">8</text>
<text x="155.9" y="592.6" font-size="12.3" font-family="Liberation Sans, sans-serif" font-weight="normal" fill="#000" text-anchor="start" textLength="12.8" lengthAdjust="spacingAndGlyphs" stroke="#fff" stroke-width="0.2">10</text>
<text x="174.6" y="592.6" font-size="12.3" font-family="Liberation Sans, sans-serif" font-weight="normal" fill="#000" text-anchor="start" textLength="12.8" lengthAdjust="spacingAndGlyphs" stroke="#fff" stroke-width="0.2">12</text>
<text x="120.95" y="606.3" font-size="12.2" font-family="Liberation Sans, sans-serif" font-weight="normal" fill="#000" text-anchor="start" textLength="7.6" lengthAdjust="spacingAndGlyphs" stroke="#fff" stroke-width="0.05">R</text>
<text x="134.75" y="606.3" font-size="13.5" font-family="Liberation Sans, sans-serif" font-weight="normal" fill="#000" text-anchor="start" textLength="4.0" lengthAdjust="spacingAndGlyphs" stroke="#fff" stroke-width="0.05">(</text>
<text x="139.75" y="606.3" font-size="12.2" font-family="Liberation Sans, sans-serif" font-weight="normal" fill="#000" text-anchor="start" textLength="7.6" lengthAdjust="spacingAndGlyphs" stroke="#fff" stroke-width="0.05">R</text>
<text x="146.65" y="609.6" font-size="8.5" font-family="Liberation Sans, sans-serif" font-weight="normal" fill="#000" text-anchor="start" textLength="5.4" lengthAdjust="spacingAndGlyphs" stroke="#fff" stroke-width="0.05">S</text>
<text x="152.65" y="606.3" font-size="13.5" font-family="Liberation Sans, sans-serif" font-weight="normal" fill="#000" text-anchor="start" textLength="4.0" lengthAdjust="spacingAndGlyphs" stroke="#fff" stroke-width="0.05">)</text>
<text x="216.60" y="325.8" font-size="15.8" font-family="Liberation Serif, serif" font-weight="normal" fill="#000" text-anchor="start" textLength="20.90" lengthAdjust="spacingAndGlyphs" stroke="#000" stroke-width="0.3">(8)</text>
<text x="246.00" y="325.8" font-size="15.8" font-family="Liberation Serif, serif" font-weight="normal" fill="#000" text-anchor="start" textLength="36.50" lengthAdjust="spacingAndGlyphs" stroke="#000" stroke-width="0.3">2013</text>
<path d="M284.50 320.80H292.80M314.50 320.80H322.70" stroke="#000" stroke-width="1.2"/>
<text x="294.70" y="325.8" font-size="15.8" font-family="Liberation Serif, serif" font-weight="normal" fill="#000" text-anchor="start" textLength="18.40" lengthAdjust="spacingAndGlyphs" stroke="#000" stroke-width="0.3">02</text>
<text x="324.70" y="325.8" font-size="15.8" font-family="Liberation Serif, serif" font-weight="normal" fill="#000" text-anchor="start" textLength="17.80" lengthAdjust="spacingAndGlyphs" stroke="#000" stroke-width="0.3">12</text>
<text x="314.20" y="353.60" font-size="20" font-family="Liberation Serif, serif" font-weight="normal" fill="#000" text-anchor="start" stroke="#000" stroke-width="0.3">(</text>
<text x="322.10" y="353.60" font-size="17" font-family="Liberation Serif, serif" font-weight="normal" fill="#000" text-anchor="start" textLength="9.0" lengthAdjust="spacingAndGlyphs" stroke="#000" stroke-width="0.3">a</text>
<text x="333.20" y="353.60" font-size="20" font-family="Liberation Serif, serif" font-weight="normal" fill="#000" text-anchor="start" stroke="#000" stroke-width="0.3">)</text>
<text x="219.00" y="476.20" font-size="20" font-family="Liberation Serif, serif" font-weight="normal" fill="#000" text-anchor="start" stroke="#000" stroke-width="0.3">(</text>
<text x="227.50" y="476.20" font-size="17" font-family="Liberation Serif, serif" font-weight="normal" fill="#000" text-anchor="start" textLength="10.0" lengthAdjust="spacingAndGlyphs" stroke="#000" stroke-width="0.3">b</text>
<text x="239.00" y="476.20" font-size="20" font-family="Liberation Serif, serif" font-weight="normal" fill="#000" text-anchor="start" stroke="#000" stroke-width="0.3">)</text>
<text x="227.8" y="592.6" font-size="12.3" font-family="Liberation Sans, sans-serif" font-weight="normal" fill="#000" text-anchor="middle" stroke="#fff" stroke-width="0.2">2</text>
<text x="246.5" y="592.6" font-size="12.3" font-family="Liberation Sans, sans-serif" font-weight="normal" fill="#000" text-anchor="middle" stroke="#fff" stroke-width="0.2">4</text>
<text x="265.2" y="592.6" font-size="12.3" font-family="Liberation Sans, sans-serif" font-weight="normal" fill="#000" text-anchor="middle" stroke="#fff" stroke-width="0.2">6</text>
<text x="283.9" y="592.6" font-size="12.3" font-family="Liberation Sans, sans-serif" font-weight="normal" fill="#000" text-anchor="middle" stroke="#fff" stroke-width="0.2">8</text>
<text x="296.2" y="592.6" font-size="12.3" font-family="Liberation Sans, sans-serif" font-weight="normal" fill="#000" text-anchor="start" textLength="12.8" lengthAdjust="spacingAndGlyphs" stroke="#fff" stroke-width="0.2">10</text>
<text x="314.9" y="592.6" font-size="12.3" font-family="Liberation Sans, sans-serif" font-weight="normal" fill="#000" text-anchor="start" textLength="12.8" lengthAdjust="spacingAndGlyphs" stroke="#fff" stroke-width="0.2">12</text>
<text x="261.20" y="606.3" font-size="12.2" font-family="Liberation Sans, sans-serif" font-weight="normal" fill="#000" text-anchor="start" textLength="7.6" lengthAdjust="spacingAndGlyphs" stroke="#fff" stroke-width="0.05">R</text>
<text x="275.00" y="606.3" font-size="13.5" font-family="Liberation Sans, sans-serif" font-weight="normal" fill="#000" text-anchor="start" textLength="4.0" lengthAdjust="spacingAndGlyphs" stroke="#fff" stroke-width="0.05">(</text>
<text x="280.00" y="606.3" font-size="12.2" font-family="Liberation Sans, sans-serif" font-weight="normal" fill="#000" text-anchor="start" textLength="7.6" lengthAdjust="spacingAndGlyphs" stroke="#fff" stroke-width="0.05">R</text>
<text x="286.90" y="609.6" font-size="8.5" font-family="Liberation Sans, sans-serif" font-weight="normal" fill="#000" text-anchor="start" textLength="5.4" lengthAdjust="spacingAndGlyphs" stroke="#fff" stroke-width="0.05">S</text>
<text x="292.90" y="606.3" font-size="13.5" font-family="Liberation Sans, sans-serif" font-weight="normal" fill="#000" text-anchor="start" textLength="4.0" lengthAdjust="spacingAndGlyphs" stroke="#fff" stroke-width="0.05">)</text>
<text x="354.90" y="325.8" font-size="15.8" font-family="Liberation Serif, serif" font-weight="normal" fill="#000" text-anchor="start" textLength="5.40" lengthAdjust="spacingAndGlyphs" stroke="#000" stroke-width="0.3">(</text>
<text x="375.20" y="325.8" font-size="15.8" font-family="Liberation Serif, serif" font-weight="normal" fill="#000" text-anchor="start" textLength="5.40" lengthAdjust="spacingAndGlyphs" stroke="#000" stroke-width="0.3">)</text>
<g fill="none" stroke="#000" stroke-width="1.1"><circle cx="368.00" cy="321.80" r="5"/><path d="M368.00 316.8 v10 M363.00 321.8 h10"/></g>
<text x="388.20" y="325.8" font-size="15.8" font-family="Liberation Serif, serif" font-weight="normal" fill="#000" text-anchor="start" textLength="36.50" lengthAdjust="spacingAndGlyphs" stroke="#000" stroke-width="0.3">2014</text>
<path d="M426.70 320.80H435.00M456.70 320.80H464.90" stroke="#000" stroke-width="1.2"/>
<text x="436.90" y="325.8" font-size="15.8" font-family="Liberation Serif, serif" font-weight="normal" fill="#000" text-anchor="start" textLength="18.40" lengthAdjust="spacingAndGlyphs" stroke="#000" stroke-width="0.3">02</text>
<text x="466.90" y="325.8" font-size="15.8" font-family="Liberation Serif, serif" font-weight="normal" fill="#000" text-anchor="start" textLength="17.80" lengthAdjust="spacingAndGlyphs" stroke="#000" stroke-width="0.3">25</text>
<text x="454.50" y="353.60" font-size="20" font-family="Liberation Serif, serif" font-weight="normal" fill="#000" text-anchor="start" stroke="#000" stroke-width="0.3">(</text>
<text x="462.40" y="353.60" font-size="17" font-family="Liberation Serif, serif" font-weight="normal" fill="#000" text-anchor="start" textLength="9.0" lengthAdjust="spacingAndGlyphs" stroke="#000" stroke-width="0.3">a</text>
<text x="473.50" y="353.60" font-size="20" font-family="Liberation Serif, serif" font-weight="normal" fill="#000" text-anchor="start" stroke="#000" stroke-width="0.3">)</text>
<text x="359.20" y="476.20" font-size="20" font-family="Liberation Serif, serif" font-weight="normal" fill="#000" text-anchor="start" stroke="#000" stroke-width="0.3">(</text>
<text x="367.70" y="476.20" font-size="17" font-family="Liberation Serif, serif" font-weight="normal" fill="#000" text-anchor="start" textLength="10.0" lengthAdjust="spacingAndGlyphs" stroke="#000" stroke-width="0.3">b</text>
<text x="379.20" y="476.20" font-size="20" font-family="Liberation Serif, serif" font-weight="normal" fill="#000" text-anchor="start" stroke="#000" stroke-width="0.3">)</text>
<text x="368.0" y="592.6" font-size="12.3" font-family="Liberation Sans, sans-serif" font-weight="normal" fill="#000" text-anchor="middle" stroke="#fff" stroke-width="0.2">2</text>
<text x="386.7" y="592.6" font-size="12.3" font-family="Liberation Sans, sans-serif" font-weight="normal" fill="#000" text-anchor="middle" stroke="#fff" stroke-width="0.2">4</text>
<text x="405.4" y="592.6" font-size="12.3" font-family="Liberation Sans, sans-serif" font-weight="normal" fill="#000" text-anchor="middle" stroke="#fff" stroke-width="0.2">6</text>
<text x="424.1" y="592.6" font-size="12.3" font-family="Liberation Sans, sans-serif" font-weight="normal" fill="#000" text-anchor="middle" stroke="#fff" stroke-width="0.2">8</text>
<text x="436.4" y="592.6" font-size="12.3" font-family="Liberation Sans, sans-serif" font-weight="normal" fill="#000" text-anchor="start" textLength="12.8" lengthAdjust="spacingAndGlyphs" stroke="#fff" stroke-width="0.2">10</text>
<text x="455.1" y="592.6" font-size="12.3" font-family="Liberation Sans, sans-serif" font-weight="normal" fill="#000" text-anchor="start" textLength="12.8" lengthAdjust="spacingAndGlyphs" stroke="#fff" stroke-width="0.2">12</text>
<text x="473.8" y="592.6" font-size="12.3" font-family="Liberation Sans, sans-serif" font-weight="normal" fill="#000" text-anchor="start" textLength="12.8" lengthAdjust="spacingAndGlyphs" stroke="#fff" stroke-width="0.2">14</text>
<text x="401.45" y="606.3" font-size="12.2" font-family="Liberation Sans, sans-serif" font-weight="normal" fill="#000" text-anchor="start" textLength="7.6" lengthAdjust="spacingAndGlyphs" stroke="#fff" stroke-width="0.05">R</text>
<text x="415.25" y="606.3" font-size="13.5" font-family="Liberation Sans, sans-serif" font-weight="normal" fill="#000" text-anchor="start" textLength="4.0" lengthAdjust="spacingAndGlyphs" stroke="#fff" stroke-width="0.05">(</text>
<text x="420.25" y="606.3" font-size="12.2" font-family="Liberation Sans, sans-serif" font-weight="normal" fill="#000" text-anchor="start" textLength="7.6" lengthAdjust="spacingAndGlyphs" stroke="#fff" stroke-width="0.05">R</text>
<text x="427.15" y="609.6" font-size="8.5" font-family="Liberation Sans, sans-serif" font-weight="normal" fill="#000" text-anchor="start" textLength="5.4" lengthAdjust="spacingAndGlyphs" stroke="#fff" stroke-width="0.05">S</text>
<text x="433.15" y="606.3" font-size="13.5" font-family="Liberation Sans, sans-serif" font-weight="normal" fill="#000" text-anchor="start" textLength="4.0" lengthAdjust="spacingAndGlyphs" stroke="#fff" stroke-width="0.05">)</text>
<text x="36.1" y="436.0" font-size="15.8" font-family="Liberation Sans, sans-serif" fill="#000" stroke="#fff" stroke-width="0.3" textLength="28.2" lengthAdjust="spacing">500</text>
<text x="26.7" y="411.6" font-size="15.8" font-family="Liberation Sans, sans-serif" fill="#000" stroke="#fff" stroke-width="0.3" textLength="37.6" lengthAdjust="spacing">1000</text>
<text x="26.7" y="387.1" font-size="15.8" font-family="Liberation Sans, sans-serif" fill="#000" stroke="#fff" stroke-width="0.3" textLength="37.6" lengthAdjust="spacing">1500</text>
<text x="26.7" y="362.7" font-size="15.8" font-family="Liberation Sans, sans-serif" fill="#000" stroke="#fff" stroke-width="0.3" textLength="37.6" lengthAdjust="spacing">2000</text>
<text x="26.7" y="343.0" font-size="15.8" font-family="Liberation Sans, sans-serif" fill="#000" stroke="#fff" stroke-width="0.3" textLength="37.6" lengthAdjust="spacing">2500</text>
<text x="54.9" y="576.8" font-size="15.8" font-family="Liberation Sans, sans-serif" fill="#000" stroke="#fff" stroke-width="0.3" textLength="9.4" lengthAdjust="spacing">0</text>
<text x="54.9" y="552.1" font-size="15.8" font-family="Liberation Sans, sans-serif" fill="#000" stroke="#fff" stroke-width="0.3" textLength="9.4" lengthAdjust="spacing">2</text>
<text x="54.9" y="521.8" font-size="15.8" font-family="Liberation Sans, sans-serif" fill="#000" stroke="#fff" stroke-width="0.3" textLength="9.4" lengthAdjust="spacing">4</text>
<text x="54.9" y="491.4" font-size="15.8" font-family="Liberation Sans, sans-serif" fill="#000" stroke="#fff" stroke-width="0.3" textLength="9.4" lengthAdjust="spacing">6</text>
<text x="54.9" y="465.5" font-size="15.8" font-family="Liberation Sans, sans-serif" fill="#000" stroke="#fff" stroke-width="0.3" textLength="9.4" lengthAdjust="spacing">8</text>
<text transform="translate(12.00 434.50) rotate(-90)" x="0" y="0" font-size="13.5" font-family="Liberation Sans, sans-serif" fill="#000" stroke="#fff" stroke-width="0.05" textLength="8.50" lengthAdjust="spacingAndGlyphs">V</text>
<text transform="translate(16.80 425.80) rotate(-90)" x="0" y="0" font-size="9.5" font-family="Liberation Sans, sans-serif" fill="#000" stroke="#fff" stroke-width="0.05" textLength="5.00" lengthAdjust="spacingAndGlyphs">s</text>
<text transform="translate(16.80 420.30) rotate(-90)" x="0" y="0" font-size="9.5" font-family="Liberation Sans, sans-serif" fill="#000" stroke="#fff" stroke-width="0.05" textLength="5.20" lengthAdjust="spacingAndGlyphs">h</text>
<text transform="translate(13.00 399.80) rotate(-90)" x="0" y="0" font-size="14.5" font-family="Liberation Sans, sans-serif" fill="#000" stroke="#fff" stroke-width="0.05" textLength="9.00" lengthAdjust="spacingAndGlyphs">k</text>
<text transform="translate(13.00 389.90) rotate(-90)" x="0" y="0" font-size="14.5" font-family="Liberation Sans, sans-serif" fill="#000" stroke="#fff" stroke-width="0.05" textLength="10.90" lengthAdjust="spacingAndGlyphs">m</text>
<text transform="translate(13.00 367.70) rotate(-90)" x="0" y="0" font-size="14.5" font-family="Liberation Sans, sans-serif" fill="#000" stroke="#fff" stroke-width="0.05" textLength="7.10" lengthAdjust="spacingAndGlyphs">s</text>
<path d="M1 402.30 V405.30 H16.3 V402.30 M16.3 377.40 L1 368.60 M1 358.00 V354.80 H16.3 V358.00" fill="none" stroke="#000" stroke-width="1.0"/>
<text transform="translate(18.00 522.80) rotate(-90)" x="0" y="0" font-size="13.5" font-family="Liberation Sans, sans-serif" fill="#000" stroke="#fff" stroke-width="0.05" textLength="10.20" lengthAdjust="spacingAndGlyphs">M</text>
<text transform="translate(21.80 512.20) rotate(-90)" x="0" y="0" font-size="9.5" font-family="Liberation Sans, sans-serif" fill="#000" stroke="#fff" stroke-width="0.05" textLength="5.60" lengthAdjust="spacingAndGlyphs">A</text>
<text x="499.30" y="378.00" font-size="14.0" font-family="Liberation Serif, serif" fill="#000000" stroke="#000000" stroke-width="0.2" textLength="19.80" lengthAdjust="spacingAndGlyphs">(a)</text>
<text x="526.50" y="378.00" font-size="14.0" font-family="Liberation Serif, serif" fill="#000000" stroke="#000000" stroke-width="0.2" textLength="41.10" lengthAdjust="spacingAndGlyphs">shock</text>
<text x="574.80" y="378.00" font-size="14.0" font-family="Liberation Serif, serif" fill="#000000" stroke="#000000" stroke-width="0.2" textLength="39.60" lengthAdjust="spacingAndGlyphs">speed</text>
<text x="499.60" y="392.80" font-size="12.4" font-family="Liberation Serif, serif" fill="#ff7f00" stroke="#ff7f00" stroke-width="0.45" textLength="13.00" lengthAdjust="spacingAndGlyphs">at</text>
<text x="517.90" y="392.80" font-size="12.4" font-family="Liberation Serif, serif" fill="#ff7f00" stroke="#ff7f00" stroke-width="0.45" textLength="20.10" lengthAdjust="spacingAndGlyphs">the</text>
<text x="543.60" y="392.80" font-size="12.4" font-family="Liberation Serif, serif" fill="#ff7f00" stroke="#ff7f00" stroke-width="0.45" textLength="45.10" lengthAdjust="spacingAndGlyphs">leading</text>
<text x="597.30" y="392.80" font-size="12.4" font-family="Liberation Serif, serif" fill="#ff7f00" stroke="#ff7f00" stroke-width="0.45" textLength="27.50" lengthAdjust="spacingAndGlyphs">edge</text>
<path d="M590.6 389.3H596.2" stroke="#ff7f00" stroke-width="1.3"/>
<text x="499.60" y="407.80" font-size="12.4" font-family="Liberation Serif, serif" fill="#0000ff" stroke="#0000ff" stroke-width="0.45" textLength="13.00" lengthAdjust="spacingAndGlyphs">at</text>
<text x="517.90" y="407.80" font-size="12.4" font-family="Liberation Serif, serif" fill="#0000ff" stroke="#0000ff" stroke-width="0.45" textLength="20.10" lengthAdjust="spacingAndGlyphs">the</text>
<text x="543.60" y="407.80" font-size="13.2" font-family="Liberation Serif, serif" fill="#0000ff" stroke="#0000ff" stroke-width="0.45" textLength="22.50" lengthAdjust="spacingAndGlyphs">STB</text>
<text x="571.60" y="407.80" font-size="12.4" font-family="Liberation Serif, serif" fill="#0000ff" stroke="#0000ff" stroke-width="0.45" textLength="53.20" lengthAdjust="spacingAndGlyphs">cobpoint</text>
<text x="499.60" y="422.80" font-size="12.4" font-family="Liberation Serif, serif" fill="#ff0000" stroke="#ff0000" stroke-width="0.45" textLength="13.00" lengthAdjust="spacingAndGlyphs">at</text>
<text x="517.90" y="422.80" font-size="12.4" font-family="Liberation Serif, serif" fill="#ff0000" stroke="#ff0000" stroke-width="0.45" textLength="20.10" lengthAdjust="spacingAndGlyphs">the</text>
<text x="543.60" y="422.80" font-size="13.2" font-family="Liberation Serif, serif" fill="#ff0000" stroke="#ff0000" stroke-width="0.45" textLength="21.30" lengthAdjust="spacingAndGlyphs">STA</text>
<text x="570.60" y="422.80" font-size="12.4" font-family="Liberation Serif, serif" fill="#ff0000" stroke="#ff0000" stroke-width="0.45" textLength="53.70" lengthAdjust="spacingAndGlyphs">cobpoint</text>
<text x="499.60" y="438.20" font-size="12.4" font-family="Liberation Serif, serif" fill="#000000" stroke="#000000" stroke-width="0.45" textLength="13.00" lengthAdjust="spacingAndGlyphs">at</text>
<text x="517.90" y="438.20" font-size="12.4" font-family="Liberation Serif, serif" fill="#000000" stroke="#000000" stroke-width="0.45" textLength="20.10" lengthAdjust="spacingAndGlyphs">the</text>
<text x="543.60" y="438.20" font-size="13.2" font-family="Liberation Serif, serif" fill="#000000" stroke="#000000" stroke-width="0.45" textLength="11.90" lengthAdjust="spacingAndGlyphs">L1</text>
<text x="563.00" y="438.20" font-size="12.4" font-family="Liberation Serif, serif" fill="#000000" stroke="#000000" stroke-width="0.45" textLength="53.10" lengthAdjust="spacingAndGlyphs">cobpoint</text>
<text x="499.30" y="499.20" font-size="14.0" font-family="Liberation Serif, serif" fill="#000000" stroke="#000000" stroke-width="0.2" textLength="19.80" lengthAdjust="spacingAndGlyphs">(b)</text>
<text x="526.50" y="499.20" font-size="14.0" font-family="Liberation Serif, serif" fill="#000000" stroke="#000000" stroke-width="0.2" textLength="43.30" lengthAdjust="spacingAndGlyphs">Alfven</text>
<text x="577.60" y="499.20" font-size="14.0" font-family="Liberation Serif, serif" fill="#000000" stroke="#000000" stroke-width="0.2" textLength="35.30" lengthAdjust="spacingAndGlyphs">Mach</text>
<text x="526.50" y="514.70" font-size="14.0" font-family="Liberation Serif, serif" fill="#000000" stroke="#000000" stroke-width="0.2" textLength="56.20" lengthAdjust="spacingAndGlyphs">number</text>
<text x="499.60" y="529.80" font-size="12.4" font-family="Liberation Serif, serif" fill="#0000ff" stroke="#0000ff" stroke-width="0.45" textLength="13.00" lengthAdjust="spacingAndGlyphs">at</text>
<text x="517.90" y="529.80" font-size="12.4" font-family="Liberation Serif, serif" fill="#0000ff" stroke="#0000ff" stroke-width="0.45" textLength="20.10" lengthAdjust="spacingAndGlyphs">the</text>
<text x="543.60" y="529.80" font-size="13.2" font-family="Liberation Serif, serif" fill="#0000ff" stroke="#0000ff" stroke-width="0.45" textLength="22.50" lengthAdjust="spacingAndGlyphs">STB</text>
<text x="571.60" y="529.80" font-size="12.4" font-family="Liberation Serif, serif" fill="#0000ff" stroke="#0000ff" stroke-width="0.45" textLength="53.20" lengthAdjust="spacingAndGlyphs">cobpoint</text>
<text x="499.60" y="545.00" font-size="12.4" font-family="Liberation Serif, serif" fill="#ff0000" stroke="#ff0000" stroke-width="0.45" textLength="13.00" lengthAdjust="spacingAndGlyphs">at</text>
<text x="517.90" y="545.00" font-size="12.4" font-family="Liberation Serif, serif" fill="#ff0000" stroke="#ff0000" stroke-width="0.45" textLength="20.10" lengthAdjust="spacingAndGlyphs">the</text>
<text x="543.60" y="545.00" font-size="13.2" font-family="Liberation Serif, serif" fill="#ff0000" stroke="#ff0000" stroke-width="0.45" textLength="21.30" lengthAdjust="spacingAndGlyphs">STA</text>
<text x="570.60" y="545.00" font-size="12.4" font-family="Liberation Serif, serif" fill="#ff0000" stroke="#ff0000" stroke-width="0.45" textLength="53.70" lengthAdjust="spacingAndGlyphs">cobpoint</text>
<text x="499.60" y="560.20" font-size="12.4" font-family="Liberation Serif, serif" fill="#000000" stroke="#000000" stroke-width="0.45" textLength="13.00" lengthAdjust="spacingAndGlyphs">at</text>
<text x="517.90" y="560.20" font-size="12.4" font-family="Liberation Serif, serif" fill="#000000" stroke="#000000" stroke-width="0.45" textLength="20.10" lengthAdjust="spacingAndGlyphs">the</text>
<text x="543.60" y="560.20" font-size="13.2" font-family="Liberation Serif, serif" fill="#000000" stroke="#000000" stroke-width="0.45" textLength="11.90" lengthAdjust="spacingAndGlyphs">L1</text>
<text x="563.00" y="560.20" font-size="12.4" font-family="Liberation Serif, serif" fill="#000000" stroke="#000000" stroke-width="0.45" textLength="53.10" lengthAdjust="spacingAndGlyphs">cobpoint</text>
</svg></body></html>
